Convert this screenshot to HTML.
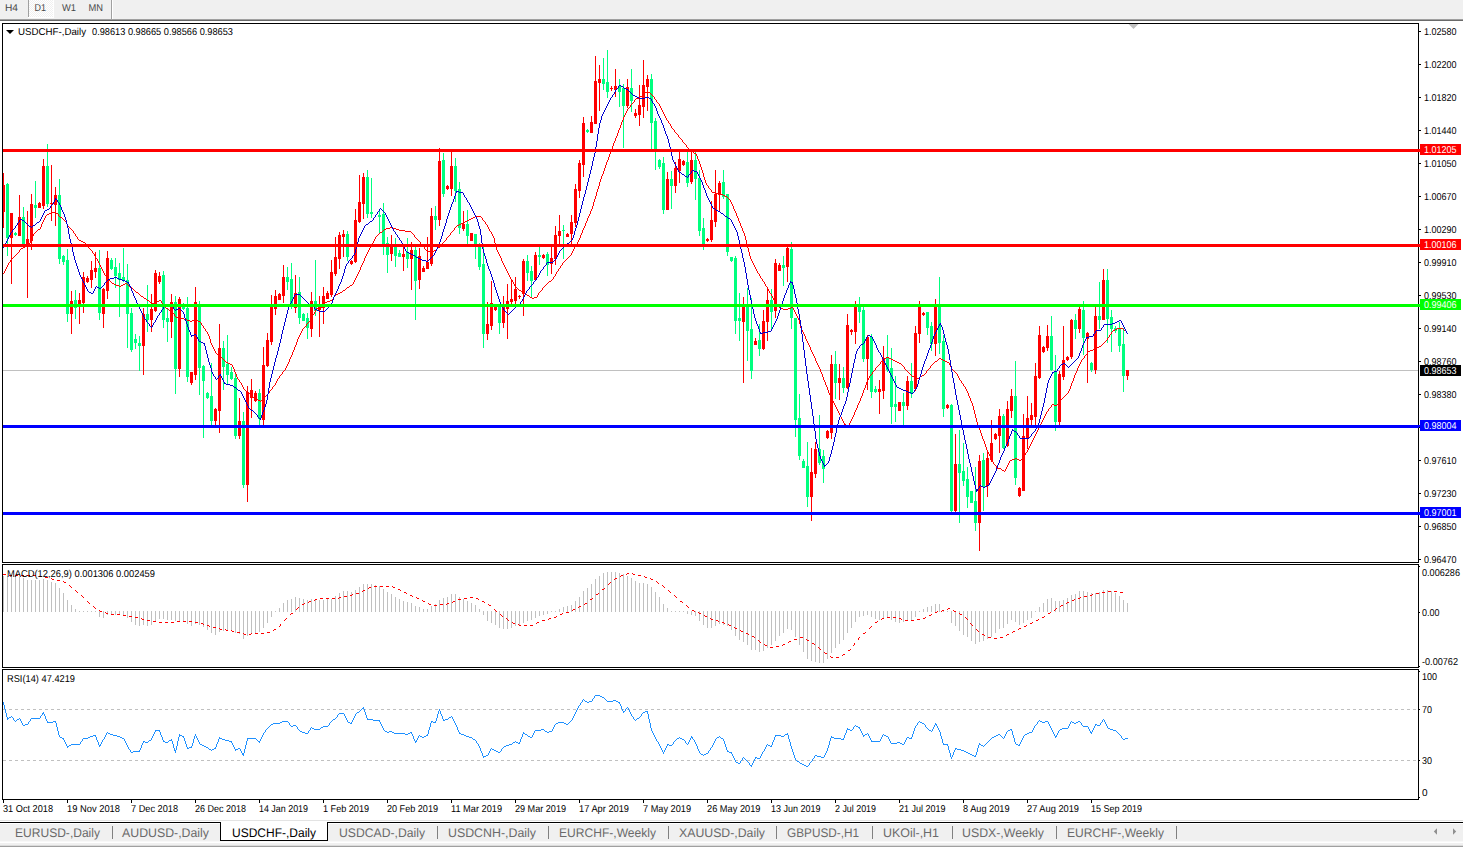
<!DOCTYPE html>
<html><head><meta charset="utf-8"><title>USDCHF-,Daily</title>
<style>
html,body{margin:0;padding:0;background:#fff;}
body{width:1463px;height:847px;overflow:hidden;position:relative;font-family:"Liberation Sans", sans-serif;}
svg{position:absolute;left:0;top:0;font-family:"Liberation Sans", sans-serif;}
.crisp{shape-rendering:crispEdges;}
</style></head><body>
<svg width="1463" height="847" viewBox="0 0 1463 847">
<g class="crisp">
<rect x="0" y="0" width="1463" height="847" fill="#ffffff"/>
<rect x="0" y="0" width="1463" height="19" fill="#f0f0f0"/>
<rect x="0" y="19" width="1463" height="1" fill="#a0a0a0"/>
<rect x="0" y="20" width="1463" height="1" fill="#696969"/>
<defs><pattern id="dth" width="2" height="2" patternUnits="userSpaceOnUse"><rect width="2" height="2" fill="#ffffff"/><rect x="0" y="0" width="1" height="1" fill="#f0f0f0"/><rect x="1" y="1" width="1" height="1" fill="#f0f0f0"/></pattern></defs>
<rect x="29" y="0" width="24" height="17" fill="url(#dth)"/>
<rect x="53" y="0" width="1" height="18" fill="#ffffff"/>
<rect x="28" y="17" width="26" height="1" fill="#ffffff"/>
<rect x="28" y="0" width="1" height="17" fill="#a0a0a0"/>
<rect x="111" y="0" width="1" height="19" fill="#a0a0a0"/>
<rect x="112" y="0" width="1" height="19" fill="#ffffff"/>
<rect x="2" y="23" width="1417" height="1" fill="#000"/>
<rect x="2" y="562" width="1417" height="1" fill="#000"/>
<rect x="2" y="23" width="1" height="540" fill="#000"/>
<rect x="1418" y="23" width="1" height="540" fill="#000"/>
<rect x="2" y="564" width="1417" height="1" fill="#000"/>
<rect x="2" y="667" width="1417" height="1" fill="#000"/>
<rect x="2" y="564" width="1" height="104" fill="#000"/>
<rect x="1418" y="564" width="1" height="104" fill="#000"/>
<rect x="2" y="669" width="1417" height="1" fill="#000"/>
<rect x="2" y="799" width="1417" height="1" fill="#000"/>
<rect x="2" y="669" width="1" height="131" fill="#000"/>
<rect x="1418" y="669" width="1" height="131" fill="#000"/>
<polygon points="1128.5,24 1138.5,24 1133.5,29" fill="#c0c0c0" shape-rendering="auto"/>
<rect x="3" y="370" width="1415" height="1" fill="#c0c0c0"/>
<rect x="3" y="173" width="1" height="55" fill="#ff0000"/>
<rect x="3" y="185" width="2" height="27" fill="#ff0000"/>
<rect x="7" y="183" width="1" height="73" fill="#00ff7f"/>
<rect x="6" y="184" width="3" height="54" fill="#00ff7f"/>
<rect x="11" y="213" width="1" height="71" fill="#ff0000"/>
<rect x="10" y="213" width="3" height="25" fill="#ff0000"/>
<rect x="15" y="232" width="1" height="4" fill="#00ff7f"/>
<rect x="14" y="233" width="3" height="2" fill="#00ff7f"/>
<rect x="19" y="195" width="1" height="41" fill="#ff0000"/>
<rect x="18" y="217" width="3" height="19" fill="#ff0000"/>
<rect x="23" y="207" width="1" height="38" fill="#00ff7f"/>
<rect x="22" y="217" width="3" height="28" fill="#00ff7f"/>
<rect x="27" y="211" width="1" height="87" fill="#ff0000"/>
<rect x="26" y="239" width="3" height="6" fill="#ff0000"/>
<rect x="31" y="194" width="1" height="56" fill="#ff0000"/>
<rect x="30" y="204" width="3" height="37" fill="#ff0000"/>
<rect x="35" y="181" width="1" height="37" fill="#00ff7f"/>
<rect x="34" y="205" width="3" height="3" fill="#00ff7f"/>
<rect x="39" y="202" width="1" height="6" fill="#ff0000"/>
<rect x="38" y="203" width="3" height="5" fill="#ff0000"/>
<rect x="43" y="159" width="1" height="50" fill="#ff0000"/>
<rect x="42" y="166" width="3" height="40" fill="#ff0000"/>
<rect x="47" y="144" width="1" height="63" fill="#00ff7f"/>
<rect x="46" y="166" width="3" height="38" fill="#00ff7f"/>
<rect x="51" y="165" width="1" height="56" fill="#ff0000"/>
<rect x="50" y="203" width="3" height="1" fill="#ff0000"/>
<rect x="55" y="187" width="1" height="39" fill="#ff0000"/>
<rect x="54" y="195" width="3" height="10" fill="#ff0000"/>
<rect x="59" y="179" width="1" height="85" fill="#00ff7f"/>
<rect x="58" y="195" width="3" height="64" fill="#00ff7f"/>
<rect x="63" y="255" width="1" height="10" fill="#00ff7f"/>
<rect x="62" y="256" width="3" height="6" fill="#00ff7f"/>
<rect x="67" y="249" width="1" height="73" fill="#00ff7f"/>
<rect x="66" y="260" width="3" height="54" fill="#00ff7f"/>
<rect x="71" y="291" width="1" height="43" fill="#ff0000"/>
<rect x="70" y="301" width="3" height="13" fill="#ff0000"/>
<rect x="75" y="290" width="1" height="29" fill="#00ff7f"/>
<rect x="74" y="300" width="3" height="8" fill="#00ff7f"/>
<rect x="79" y="293" width="1" height="31" fill="#ff0000"/>
<rect x="78" y="300" width="3" height="6" fill="#ff0000"/>
<rect x="83" y="272" width="1" height="41" fill="#ff0000"/>
<rect x="82" y="277" width="3" height="26" fill="#ff0000"/>
<rect x="87" y="276" width="1" height="7" fill="#ff0000"/>
<rect x="86" y="278" width="3" height="4" fill="#ff0000"/>
<rect x="91" y="261" width="1" height="27" fill="#ff0000"/>
<rect x="90" y="270" width="3" height="10" fill="#ff0000"/>
<rect x="95" y="252" width="1" height="26" fill="#ff0000"/>
<rect x="94" y="268" width="3" height="4" fill="#ff0000"/>
<rect x="99" y="250" width="1" height="70" fill="#00ff7f"/>
<rect x="98" y="268" width="3" height="45" fill="#00ff7f"/>
<rect x="103" y="288" width="1" height="40" fill="#ff0000"/>
<rect x="102" y="289" width="3" height="25" fill="#ff0000"/>
<rect x="107" y="251" width="1" height="48" fill="#ff0000"/>
<rect x="106" y="258" width="3" height="33" fill="#ff0000"/>
<rect x="111" y="258" width="1" height="12" fill="#00ff7f"/>
<rect x="110" y="260" width="3" height="9" fill="#00ff7f"/>
<rect x="115" y="258" width="1" height="30" fill="#00ff7f"/>
<rect x="114" y="267" width="3" height="9" fill="#00ff7f"/>
<rect x="119" y="263" width="1" height="54" fill="#00ff7f"/>
<rect x="118" y="273" width="3" height="7" fill="#00ff7f"/>
<rect x="123" y="248" width="1" height="34" fill="#00ff7f"/>
<rect x="122" y="277" width="3" height="4" fill="#00ff7f"/>
<rect x="127" y="264" width="1" height="84" fill="#00ff7f"/>
<rect x="126" y="280" width="3" height="34" fill="#00ff7f"/>
<rect x="131" y="308" width="1" height="44" fill="#00ff7f"/>
<rect x="130" y="313" width="3" height="37" fill="#00ff7f"/>
<rect x="135" y="334" width="1" height="15" fill="#00ff7f"/>
<rect x="134" y="339" width="3" height="4" fill="#00ff7f"/>
<rect x="139" y="336" width="1" height="35" fill="#00ff7f"/>
<rect x="138" y="343" width="3" height="3" fill="#00ff7f"/>
<rect x="143" y="308" width="1" height="67" fill="#ff0000"/>
<rect x="142" y="314" width="3" height="32" fill="#ff0000"/>
<rect x="147" y="285" width="1" height="47" fill="#00ff7f"/>
<rect x="146" y="314" width="3" height="6" fill="#00ff7f"/>
<rect x="151" y="294" width="1" height="38" fill="#ff0000"/>
<rect x="150" y="309" width="3" height="11" fill="#ff0000"/>
<rect x="155" y="270" width="1" height="42" fill="#ff0000"/>
<rect x="154" y="273" width="3" height="38" fill="#ff0000"/>
<rect x="159" y="272" width="1" height="12" fill="#ff0000"/>
<rect x="158" y="276" width="3" height="6" fill="#ff0000"/>
<rect x="163" y="271" width="1" height="57" fill="#00ff7f"/>
<rect x="162" y="275" width="3" height="45" fill="#00ff7f"/>
<rect x="167" y="308" width="1" height="34" fill="#00ff7f"/>
<rect x="166" y="318" width="3" height="4" fill="#00ff7f"/>
<rect x="171" y="294" width="1" height="44" fill="#ff0000"/>
<rect x="170" y="302" width="3" height="20" fill="#ff0000"/>
<rect x="175" y="296" width="1" height="98" fill="#00ff7f"/>
<rect x="174" y="302" width="3" height="67" fill="#00ff7f"/>
<rect x="179" y="297" width="1" height="80" fill="#ff0000"/>
<rect x="178" y="299" width="3" height="70" fill="#ff0000"/>
<rect x="183" y="303" width="1" height="7" fill="#00ff7f"/>
<rect x="182" y="304" width="3" height="5" fill="#00ff7f"/>
<rect x="187" y="297" width="1" height="85" fill="#00ff7f"/>
<rect x="186" y="308" width="3" height="69" fill="#00ff7f"/>
<rect x="191" y="372" width="1" height="13" fill="#ff0000"/>
<rect x="190" y="372" width="3" height="11" fill="#ff0000"/>
<rect x="195" y="287" width="1" height="93" fill="#ff0000"/>
<rect x="194" y="302" width="3" height="73" fill="#ff0000"/>
<rect x="199" y="301" width="1" height="94" fill="#00ff7f"/>
<rect x="198" y="304" width="3" height="64" fill="#00ff7f"/>
<rect x="203" y="365" width="1" height="73" fill="#00ff7f"/>
<rect x="202" y="366" width="3" height="15" fill="#00ff7f"/>
<rect x="207" y="392" width="1" height="7" fill="#00ff7f"/>
<rect x="206" y="393" width="3" height="5" fill="#00ff7f"/>
<rect x="211" y="363" width="1" height="63" fill="#00ff7f"/>
<rect x="210" y="396" width="3" height="25" fill="#00ff7f"/>
<rect x="215" y="408" width="1" height="17" fill="#ff0000"/>
<rect x="214" y="409" width="3" height="12" fill="#ff0000"/>
<rect x="219" y="324" width="1" height="109" fill="#ff0000"/>
<rect x="218" y="348" width="3" height="63" fill="#ff0000"/>
<rect x="223" y="341" width="1" height="49" fill="#00ff7f"/>
<rect x="222" y="348" width="3" height="19" fill="#00ff7f"/>
<rect x="227" y="335" width="1" height="49" fill="#00ff7f"/>
<rect x="226" y="364" width="3" height="11" fill="#00ff7f"/>
<rect x="231" y="367" width="1" height="13" fill="#00ff7f"/>
<rect x="230" y="372" width="3" height="7" fill="#00ff7f"/>
<rect x="235" y="374" width="1" height="65" fill="#00ff7f"/>
<rect x="234" y="378" width="3" height="58" fill="#00ff7f"/>
<rect x="239" y="398" width="1" height="41" fill="#ff0000"/>
<rect x="238" y="421" width="3" height="15" fill="#ff0000"/>
<rect x="243" y="412" width="1" height="76" fill="#00ff7f"/>
<rect x="242" y="421" width="3" height="64" fill="#00ff7f"/>
<rect x="247" y="386" width="1" height="116" fill="#ff0000"/>
<rect x="246" y="392" width="3" height="93" fill="#ff0000"/>
<rect x="251" y="379" width="1" height="39" fill="#ff0000"/>
<rect x="250" y="390" width="3" height="8" fill="#ff0000"/>
<rect x="255" y="391" width="1" height="11" fill="#ff0000"/>
<rect x="254" y="393" width="3" height="8" fill="#ff0000"/>
<rect x="259" y="389" width="1" height="37" fill="#00ff7f"/>
<rect x="258" y="393" width="3" height="26" fill="#00ff7f"/>
<rect x="263" y="347" width="1" height="79" fill="#ff0000"/>
<rect x="262" y="365" width="3" height="55" fill="#ff0000"/>
<rect x="267" y="333" width="1" height="34" fill="#ff0000"/>
<rect x="266" y="340" width="3" height="26" fill="#ff0000"/>
<rect x="271" y="295" width="1" height="50" fill="#ff0000"/>
<rect x="270" y="305" width="3" height="37" fill="#ff0000"/>
<rect x="275" y="290" width="1" height="25" fill="#ff0000"/>
<rect x="274" y="296" width="3" height="13" fill="#ff0000"/>
<rect x="279" y="293" width="1" height="7" fill="#ff0000"/>
<rect x="278" y="294" width="3" height="6" fill="#ff0000"/>
<rect x="283" y="265" width="1" height="38" fill="#ff0000"/>
<rect x="282" y="277" width="3" height="19" fill="#ff0000"/>
<rect x="287" y="267" width="1" height="23" fill="#00ff7f"/>
<rect x="286" y="277" width="3" height="5" fill="#00ff7f"/>
<rect x="291" y="263" width="1" height="46" fill="#00ff7f"/>
<rect x="290" y="279" width="3" height="25" fill="#00ff7f"/>
<rect x="295" y="275" width="1" height="38" fill="#ff0000"/>
<rect x="294" y="293" width="3" height="15" fill="#ff0000"/>
<rect x="299" y="277" width="1" height="47" fill="#00ff7f"/>
<rect x="298" y="292" width="3" height="26" fill="#00ff7f"/>
<rect x="303" y="313" width="1" height="8" fill="#00ff7f"/>
<rect x="302" y="314" width="3" height="7" fill="#00ff7f"/>
<rect x="307" y="313" width="1" height="26" fill="#00ff7f"/>
<rect x="306" y="318" width="3" height="10" fill="#00ff7f"/>
<rect x="311" y="292" width="1" height="45" fill="#ff0000"/>
<rect x="310" y="301" width="3" height="28" fill="#ff0000"/>
<rect x="315" y="260" width="1" height="56" fill="#00ff7f"/>
<rect x="314" y="301" width="3" height="10" fill="#00ff7f"/>
<rect x="319" y="296" width="1" height="41" fill="#ff0000"/>
<rect x="318" y="306" width="3" height="4" fill="#ff0000"/>
<rect x="323" y="287" width="1" height="37" fill="#ff0000"/>
<rect x="322" y="296" width="3" height="12" fill="#ff0000"/>
<rect x="327" y="291" width="1" height="8" fill="#ff0000"/>
<rect x="326" y="293" width="3" height="6" fill="#ff0000"/>
<rect x="331" y="260" width="1" height="37" fill="#ff0000"/>
<rect x="330" y="272" width="3" height="23" fill="#ff0000"/>
<rect x="335" y="237" width="1" height="39" fill="#ff0000"/>
<rect x="334" y="257" width="3" height="17" fill="#ff0000"/>
<rect x="339" y="232" width="1" height="37" fill="#ff0000"/>
<rect x="338" y="235" width="3" height="24" fill="#ff0000"/>
<rect x="343" y="230" width="1" height="27" fill="#ff0000"/>
<rect x="342" y="234" width="3" height="3" fill="#ff0000"/>
<rect x="347" y="231" width="1" height="30" fill="#00ff7f"/>
<rect x="346" y="234" width="3" height="23" fill="#00ff7f"/>
<rect x="351" y="260" width="1" height="5" fill="#ff0000"/>
<rect x="350" y="261" width="3" height="3" fill="#ff0000"/>
<rect x="355" y="209" width="1" height="54" fill="#ff0000"/>
<rect x="354" y="220" width="3" height="42" fill="#ff0000"/>
<rect x="359" y="175" width="1" height="48" fill="#ff0000"/>
<rect x="358" y="202" width="3" height="20" fill="#ff0000"/>
<rect x="363" y="173" width="1" height="46" fill="#ff0000"/>
<rect x="362" y="177" width="3" height="27" fill="#ff0000"/>
<rect x="367" y="170" width="1" height="48" fill="#00ff7f"/>
<rect x="366" y="177" width="3" height="37" fill="#00ff7f"/>
<rect x="371" y="178" width="1" height="40" fill="#00ff7f"/>
<rect x="370" y="212" width="3" height="2" fill="#00ff7f"/>
<rect x="379" y="210" width="1" height="24" fill="#00ff7f"/>
<rect x="378" y="215" width="3" height="2" fill="#00ff7f"/>
<rect x="383" y="203" width="1" height="52" fill="#00ff7f"/>
<rect x="382" y="214" width="3" height="32" fill="#00ff7f"/>
<rect x="387" y="237" width="1" height="36" fill="#00ff7f"/>
<rect x="386" y="243" width="3" height="12" fill="#00ff7f"/>
<rect x="391" y="235" width="1" height="26" fill="#ff0000"/>
<rect x="390" y="247" width="3" height="7" fill="#ff0000"/>
<rect x="395" y="238" width="1" height="29" fill="#00ff7f"/>
<rect x="394" y="247" width="3" height="9" fill="#00ff7f"/>
<rect x="399" y="250" width="1" height="7" fill="#00ff7f"/>
<rect x="398" y="253" width="3" height="4" fill="#00ff7f"/>
<rect x="403" y="247" width="1" height="24" fill="#ff0000"/>
<rect x="402" y="254" width="3" height="3" fill="#ff0000"/>
<rect x="407" y="238" width="1" height="30" fill="#00ff7f"/>
<rect x="406" y="252" width="3" height="7" fill="#00ff7f"/>
<rect x="411" y="242" width="1" height="48" fill="#ff0000"/>
<rect x="410" y="250" width="3" height="9" fill="#ff0000"/>
<rect x="415" y="247" width="1" height="73" fill="#00ff7f"/>
<rect x="414" y="250" width="3" height="31" fill="#00ff7f"/>
<rect x="419" y="248" width="1" height="41" fill="#ff0000"/>
<rect x="418" y="256" width="3" height="24" fill="#ff0000"/>
<rect x="423" y="266" width="1" height="6" fill="#ff0000"/>
<rect x="422" y="268" width="3" height="4" fill="#ff0000"/>
<rect x="427" y="237" width="1" height="32" fill="#ff0000"/>
<rect x="426" y="262" width="3" height="7" fill="#ff0000"/>
<rect x="431" y="208" width="1" height="58" fill="#ff0000"/>
<rect x="430" y="216" width="3" height="48" fill="#ff0000"/>
<rect x="435" y="206" width="1" height="24" fill="#00ff7f"/>
<rect x="434" y="216" width="3" height="4" fill="#00ff7f"/>
<rect x="439" y="148" width="1" height="78" fill="#ff0000"/>
<rect x="438" y="161" width="3" height="59" fill="#ff0000"/>
<rect x="443" y="153" width="1" height="44" fill="#00ff7f"/>
<rect x="442" y="160" width="3" height="34" fill="#00ff7f"/>
<rect x="447" y="185" width="1" height="5" fill="#ff0000"/>
<rect x="446" y="186" width="3" height="3" fill="#ff0000"/>
<rect x="451" y="151" width="1" height="45" fill="#ff0000"/>
<rect x="450" y="166" width="3" height="23" fill="#ff0000"/>
<rect x="455" y="158" width="1" height="44" fill="#00ff7f"/>
<rect x="454" y="166" width="3" height="25" fill="#00ff7f"/>
<rect x="459" y="182" width="1" height="52" fill="#00ff7f"/>
<rect x="458" y="189" width="3" height="39" fill="#00ff7f"/>
<rect x="463" y="211" width="1" height="20" fill="#ff0000"/>
<rect x="462" y="224" width="3" height="5" fill="#ff0000"/>
<rect x="467" y="210" width="1" height="35" fill="#00ff7f"/>
<rect x="466" y="224" width="3" height="12" fill="#00ff7f"/>
<rect x="471" y="233" width="1" height="8" fill="#ff0000"/>
<rect x="470" y="233" width="3" height="8" fill="#ff0000"/>
<rect x="475" y="234" width="1" height="25" fill="#00ff7f"/>
<rect x="474" y="234" width="3" height="12" fill="#00ff7f"/>
<rect x="479" y="243" width="1" height="27" fill="#00ff7f"/>
<rect x="478" y="245" width="3" height="22" fill="#00ff7f"/>
<rect x="483" y="247" width="1" height="101" fill="#00ff7f"/>
<rect x="482" y="264" width="3" height="70" fill="#00ff7f"/>
<rect x="487" y="302" width="1" height="38" fill="#ff0000"/>
<rect x="486" y="324" width="3" height="10" fill="#ff0000"/>
<rect x="491" y="281" width="1" height="49" fill="#ff0000"/>
<rect x="490" y="303" width="3" height="23" fill="#ff0000"/>
<rect x="495" y="306" width="1" height="5" fill="#ff0000"/>
<rect x="494" y="307" width="3" height="3" fill="#ff0000"/>
<rect x="499" y="304" width="1" height="30" fill="#00ff7f"/>
<rect x="498" y="306" width="3" height="17" fill="#00ff7f"/>
<rect x="503" y="296" width="1" height="32" fill="#ff0000"/>
<rect x="502" y="307" width="3" height="16" fill="#ff0000"/>
<rect x="507" y="284" width="1" height="55" fill="#ff0000"/>
<rect x="506" y="301" width="3" height="8" fill="#ff0000"/>
<rect x="511" y="280" width="1" height="25" fill="#ff0000"/>
<rect x="510" y="299" width="3" height="3" fill="#ff0000"/>
<rect x="515" y="277" width="1" height="28" fill="#ff0000"/>
<rect x="514" y="289" width="3" height="12" fill="#ff0000"/>
<rect x="519" y="295" width="1" height="4" fill="#ff0000"/>
<rect x="518" y="296" width="3" height="1" fill="#ff0000"/>
<rect x="523" y="259" width="1" height="57" fill="#ff0000"/>
<rect x="522" y="261" width="3" height="33" fill="#ff0000"/>
<rect x="527" y="255" width="1" height="26" fill="#00ff7f"/>
<rect x="526" y="261" width="3" height="12" fill="#00ff7f"/>
<rect x="531" y="266" width="1" height="31" fill="#00ff7f"/>
<rect x="530" y="271" width="3" height="10" fill="#00ff7f"/>
<rect x="535" y="252" width="1" height="29" fill="#ff0000"/>
<rect x="534" y="255" width="3" height="25" fill="#ff0000"/>
<rect x="539" y="247" width="1" height="18" fill="#00ff7f"/>
<rect x="538" y="255" width="3" height="2" fill="#00ff7f"/>
<rect x="543" y="254" width="1" height="5" fill="#ff0000"/>
<rect x="542" y="255" width="3" height="3" fill="#ff0000"/>
<rect x="547" y="252" width="1" height="24" fill="#00ff7f"/>
<rect x="546" y="254" width="3" height="11" fill="#00ff7f"/>
<rect x="551" y="247" width="1" height="27" fill="#ff0000"/>
<rect x="550" y="258" width="3" height="6" fill="#ff0000"/>
<rect x="555" y="226" width="1" height="39" fill="#ff0000"/>
<rect x="554" y="235" width="3" height="24" fill="#ff0000"/>
<rect x="559" y="215" width="1" height="30" fill="#ff0000"/>
<rect x="558" y="231" width="3" height="5" fill="#ff0000"/>
<rect x="563" y="225" width="1" height="34" fill="#00ff7f"/>
<rect x="562" y="230" width="3" height="1" fill="#00ff7f"/>
<rect x="567" y="233" width="1" height="4" fill="#ff0000"/>
<rect x="566" y="234" width="3" height="3" fill="#ff0000"/>
<rect x="571" y="215" width="1" height="32" fill="#ff0000"/>
<rect x="570" y="222" width="3" height="12" fill="#ff0000"/>
<rect x="575" y="184" width="1" height="43" fill="#ff0000"/>
<rect x="574" y="189" width="3" height="34" fill="#ff0000"/>
<rect x="579" y="160" width="1" height="38" fill="#ff0000"/>
<rect x="578" y="163" width="3" height="28" fill="#ff0000"/>
<rect x="583" y="117" width="1" height="60" fill="#ff0000"/>
<rect x="582" y="123" width="3" height="42" fill="#ff0000"/>
<rect x="587" y="129" width="1" height="4" fill="#00ff7f"/>
<rect x="586" y="130" width="3" height="2" fill="#00ff7f"/>
<rect x="591" y="116" width="1" height="17" fill="#ff0000"/>
<rect x="590" y="122" width="3" height="11" fill="#ff0000"/>
<rect x="595" y="56" width="1" height="68" fill="#ff0000"/>
<rect x="594" y="81" width="3" height="43" fill="#ff0000"/>
<rect x="599" y="65" width="1" height="46" fill="#ff0000"/>
<rect x="598" y="79" width="3" height="4" fill="#ff0000"/>
<rect x="603" y="58" width="1" height="32" fill="#00ff7f"/>
<rect x="602" y="79" width="3" height="5" fill="#00ff7f"/>
<rect x="607" y="50" width="1" height="48" fill="#00ff7f"/>
<rect x="606" y="82" width="3" height="10" fill="#00ff7f"/>
<rect x="611" y="86" width="1" height="5" fill="#ff0000"/>
<rect x="610" y="88" width="3" height="1" fill="#ff0000"/>
<rect x="615" y="69" width="1" height="28" fill="#ff0000"/>
<rect x="614" y="86" width="3" height="4" fill="#ff0000"/>
<rect x="619" y="79" width="1" height="28" fill="#00ff7f"/>
<rect x="618" y="86" width="3" height="6" fill="#00ff7f"/>
<rect x="623" y="84" width="1" height="64" fill="#00ff7f"/>
<rect x="622" y="88" width="3" height="18" fill="#00ff7f"/>
<rect x="627" y="79" width="1" height="29" fill="#ff0000"/>
<rect x="626" y="87" width="3" height="19" fill="#ff0000"/>
<rect x="631" y="69" width="1" height="43" fill="#00ff7f"/>
<rect x="630" y="88" width="3" height="13" fill="#00ff7f"/>
<rect x="635" y="109" width="1" height="9" fill="#ff0000"/>
<rect x="634" y="113" width="3" height="3" fill="#ff0000"/>
<rect x="639" y="85" width="1" height="41" fill="#ff0000"/>
<rect x="638" y="105" width="3" height="10" fill="#ff0000"/>
<rect x="643" y="60" width="1" height="58" fill="#ff0000"/>
<rect x="642" y="85" width="3" height="22" fill="#ff0000"/>
<rect x="647" y="75" width="1" height="36" fill="#ff0000"/>
<rect x="646" y="79" width="3" height="8" fill="#ff0000"/>
<rect x="651" y="74" width="1" height="76" fill="#00ff7f"/>
<rect x="650" y="79" width="3" height="44" fill="#00ff7f"/>
<rect x="655" y="118" width="1" height="52" fill="#00ff7f"/>
<rect x="654" y="121" width="3" height="28" fill="#00ff7f"/>
<rect x="659" y="159" width="1" height="10" fill="#00ff7f"/>
<rect x="658" y="160" width="3" height="7" fill="#00ff7f"/>
<rect x="663" y="157" width="1" height="57" fill="#00ff7f"/>
<rect x="662" y="163" width="3" height="47" fill="#00ff7f"/>
<rect x="667" y="172" width="1" height="38" fill="#ff0000"/>
<rect x="666" y="179" width="3" height="31" fill="#ff0000"/>
<rect x="671" y="171" width="1" height="38" fill="#00ff7f"/>
<rect x="670" y="179" width="3" height="7" fill="#00ff7f"/>
<rect x="675" y="162" width="1" height="31" fill="#ff0000"/>
<rect x="674" y="168" width="3" height="18" fill="#ff0000"/>
<rect x="679" y="152" width="1" height="31" fill="#ff0000"/>
<rect x="678" y="159" width="3" height="12" fill="#ff0000"/>
<rect x="683" y="160" width="1" height="6" fill="#ff0000"/>
<rect x="682" y="161" width="3" height="4" fill="#ff0000"/>
<rect x="687" y="152" width="1" height="35" fill="#00ff7f"/>
<rect x="686" y="162" width="3" height="21" fill="#00ff7f"/>
<rect x="691" y="151" width="1" height="33" fill="#ff0000"/>
<rect x="690" y="160" width="3" height="22" fill="#ff0000"/>
<rect x="695" y="152" width="1" height="48" fill="#00ff7f"/>
<rect x="694" y="160" width="3" height="19" fill="#00ff7f"/>
<rect x="699" y="170" width="1" height="66" fill="#00ff7f"/>
<rect x="698" y="178" width="3" height="53" fill="#00ff7f"/>
<rect x="703" y="218" width="1" height="32" fill="#00ff7f"/>
<rect x="702" y="228" width="3" height="16" fill="#00ff7f"/>
<rect x="707" y="238" width="1" height="4" fill="#ff0000"/>
<rect x="706" y="239" width="3" height="2" fill="#ff0000"/>
<rect x="711" y="201" width="1" height="41" fill="#ff0000"/>
<rect x="710" y="220" width="3" height="20" fill="#ff0000"/>
<rect x="715" y="170" width="1" height="57" fill="#ff0000"/>
<rect x="714" y="194" width="3" height="28" fill="#ff0000"/>
<rect x="719" y="181" width="1" height="31" fill="#ff0000"/>
<rect x="718" y="183" width="3" height="12" fill="#ff0000"/>
<rect x="723" y="170" width="1" height="29" fill="#00ff7f"/>
<rect x="722" y="182" width="3" height="15" fill="#00ff7f"/>
<rect x="727" y="194" width="1" height="62" fill="#00ff7f"/>
<rect x="726" y="194" width="3" height="58" fill="#00ff7f"/>
<rect x="731" y="257" width="1" height="5" fill="#00ff7f"/>
<rect x="730" y="257" width="3" height="4" fill="#00ff7f"/>
<rect x="735" y="256" width="1" height="78" fill="#00ff7f"/>
<rect x="734" y="258" width="3" height="63" fill="#00ff7f"/>
<rect x="739" y="293" width="1" height="48" fill="#00ff7f"/>
<rect x="738" y="318" width="3" height="3" fill="#00ff7f"/>
<rect x="743" y="297" width="1" height="86" fill="#ff0000"/>
<rect x="742" y="307" width="3" height="15" fill="#ff0000"/>
<rect x="747" y="288" width="1" height="73" fill="#00ff7f"/>
<rect x="746" y="307" width="3" height="24" fill="#00ff7f"/>
<rect x="751" y="298" width="1" height="81" fill="#00ff7f"/>
<rect x="750" y="329" width="3" height="42" fill="#00ff7f"/>
<rect x="755" y="338" width="1" height="7" fill="#ff0000"/>
<rect x="754" y="341" width="3" height="4" fill="#ff0000"/>
<rect x="759" y="324" width="1" height="32" fill="#00ff7f"/>
<rect x="758" y="340" width="3" height="9" fill="#00ff7f"/>
<rect x="763" y="310" width="1" height="40" fill="#ff0000"/>
<rect x="762" y="321" width="3" height="28" fill="#ff0000"/>
<rect x="767" y="288" width="1" height="53" fill="#ff0000"/>
<rect x="766" y="300" width="3" height="22" fill="#ff0000"/>
<rect x="771" y="289" width="1" height="40" fill="#00ff7f"/>
<rect x="770" y="300" width="3" height="12" fill="#00ff7f"/>
<rect x="775" y="259" width="1" height="59" fill="#ff0000"/>
<rect x="774" y="263" width="3" height="48" fill="#ff0000"/>
<rect x="779" y="263" width="1" height="8" fill="#ff0000"/>
<rect x="778" y="265" width="3" height="6" fill="#ff0000"/>
<rect x="783" y="256" width="1" height="30" fill="#00ff7f"/>
<rect x="782" y="265" width="3" height="3" fill="#00ff7f"/>
<rect x="787" y="246" width="1" height="36" fill="#ff0000"/>
<rect x="786" y="248" width="3" height="19" fill="#ff0000"/>
<rect x="791" y="242" width="1" height="87" fill="#00ff7f"/>
<rect x="790" y="249" width="3" height="69" fill="#00ff7f"/>
<rect x="795" y="318" width="1" height="119" fill="#00ff7f"/>
<rect x="794" y="318" width="3" height="102" fill="#00ff7f"/>
<rect x="799" y="394" width="1" height="66" fill="#00ff7f"/>
<rect x="798" y="418" width="3" height="38" fill="#00ff7f"/>
<rect x="803" y="459" width="1" height="9" fill="#00ff7f"/>
<rect x="802" y="461" width="3" height="7" fill="#00ff7f"/>
<rect x="807" y="442" width="1" height="65" fill="#00ff7f"/>
<rect x="806" y="466" width="3" height="31" fill="#00ff7f"/>
<rect x="811" y="448" width="1" height="73" fill="#ff0000"/>
<rect x="810" y="472" width="3" height="25" fill="#ff0000"/>
<rect x="815" y="442" width="1" height="36" fill="#ff0000"/>
<rect x="814" y="449" width="3" height="25" fill="#ff0000"/>
<rect x="819" y="415" width="1" height="50" fill="#00ff7f"/>
<rect x="818" y="449" width="3" height="14" fill="#00ff7f"/>
<rect x="823" y="450" width="1" height="33" fill="#00ff7f"/>
<rect x="822" y="456" width="3" height="13" fill="#00ff7f"/>
<rect x="827" y="430" width="1" height="9" fill="#ff0000"/>
<rect x="826" y="431" width="3" height="7" fill="#ff0000"/>
<rect x="831" y="355" width="1" height="84" fill="#ff0000"/>
<rect x="830" y="364" width="3" height="69" fill="#ff0000"/>
<rect x="835" y="351" width="1" height="48" fill="#00ff7f"/>
<rect x="834" y="364" width="3" height="19" fill="#00ff7f"/>
<rect x="839" y="364" width="1" height="36" fill="#ff0000"/>
<rect x="838" y="378" width="3" height="5" fill="#ff0000"/>
<rect x="843" y="367" width="1" height="26" fill="#00ff7f"/>
<rect x="842" y="378" width="3" height="10" fill="#00ff7f"/>
<rect x="847" y="314" width="1" height="75" fill="#ff0000"/>
<rect x="846" y="325" width="3" height="63" fill="#ff0000"/>
<rect x="851" y="329" width="1" height="6" fill="#ff0000"/>
<rect x="850" y="330" width="3" height="2" fill="#ff0000"/>
<rect x="855" y="301" width="1" height="43" fill="#ff0000"/>
<rect x="854" y="307" width="3" height="25" fill="#ff0000"/>
<rect x="859" y="297" width="1" height="26" fill="#00ff7f"/>
<rect x="858" y="307" width="3" height="5" fill="#00ff7f"/>
<rect x="863" y="307" width="1" height="55" fill="#00ff7f"/>
<rect x="862" y="310" width="3" height="49" fill="#00ff7f"/>
<rect x="867" y="335" width="1" height="55" fill="#ff0000"/>
<rect x="866" y="337" width="3" height="22" fill="#ff0000"/>
<rect x="871" y="334" width="1" height="64" fill="#00ff7f"/>
<rect x="870" y="337" width="3" height="55" fill="#00ff7f"/>
<rect x="875" y="386" width="1" height="7" fill="#00ff7f"/>
<rect x="874" y="389" width="3" height="3" fill="#00ff7f"/>
<rect x="879" y="380" width="1" height="34" fill="#ff0000"/>
<rect x="878" y="389" width="3" height="3" fill="#ff0000"/>
<rect x="883" y="346" width="1" height="53" fill="#ff0000"/>
<rect x="882" y="358" width="3" height="33" fill="#ff0000"/>
<rect x="887" y="335" width="1" height="37" fill="#00ff7f"/>
<rect x="886" y="358" width="3" height="12" fill="#00ff7f"/>
<rect x="891" y="348" width="1" height="76" fill="#00ff7f"/>
<rect x="890" y="368" width="3" height="39" fill="#00ff7f"/>
<rect x="895" y="376" width="1" height="46" fill="#00ff7f"/>
<rect x="894" y="404" width="3" height="3" fill="#00ff7f"/>
<rect x="899" y="402" width="1" height="9" fill="#ff0000"/>
<rect x="898" y="402" width="3" height="9" fill="#ff0000"/>
<rect x="903" y="393" width="1" height="33" fill="#00ff7f"/>
<rect x="902" y="402" width="3" height="4" fill="#00ff7f"/>
<rect x="907" y="376" width="1" height="34" fill="#ff0000"/>
<rect x="906" y="381" width="3" height="25" fill="#ff0000"/>
<rect x="911" y="363" width="1" height="35" fill="#00ff7f"/>
<rect x="910" y="381" width="3" height="13" fill="#00ff7f"/>
<rect x="915" y="326" width="1" height="65" fill="#ff0000"/>
<rect x="914" y="333" width="3" height="56" fill="#ff0000"/>
<rect x="919" y="301" width="1" height="42" fill="#ff0000"/>
<rect x="918" y="307" width="3" height="27" fill="#ff0000"/>
<rect x="923" y="312" width="1" height="4" fill="#ff0000"/>
<rect x="922" y="313" width="3" height="2" fill="#ff0000"/>
<rect x="927" y="312" width="1" height="23" fill="#00ff7f"/>
<rect x="926" y="312" width="3" height="16" fill="#00ff7f"/>
<rect x="931" y="322" width="1" height="29" fill="#00ff7f"/>
<rect x="930" y="326" width="3" height="18" fill="#00ff7f"/>
<rect x="935" y="299" width="1" height="57" fill="#ff0000"/>
<rect x="934" y="307" width="3" height="37" fill="#ff0000"/>
<rect x="939" y="277" width="1" height="77" fill="#00ff7f"/>
<rect x="938" y="307" width="3" height="36" fill="#00ff7f"/>
<rect x="943" y="335" width="1" height="82" fill="#00ff7f"/>
<rect x="942" y="341" width="3" height="68" fill="#00ff7f"/>
<rect x="947" y="404" width="1" height="5" fill="#ff0000"/>
<rect x="946" y="405" width="3" height="3" fill="#ff0000"/>
<rect x="951" y="404" width="1" height="109" fill="#00ff7f"/>
<rect x="950" y="405" width="3" height="106" fill="#00ff7f"/>
<rect x="955" y="434" width="1" height="78" fill="#ff0000"/>
<rect x="954" y="464" width="3" height="47" fill="#ff0000"/>
<rect x="959" y="430" width="1" height="93" fill="#00ff7f"/>
<rect x="958" y="464" width="3" height="9" fill="#00ff7f"/>
<rect x="963" y="443" width="1" height="43" fill="#00ff7f"/>
<rect x="962" y="471" width="3" height="10" fill="#00ff7f"/>
<rect x="967" y="467" width="1" height="41" fill="#00ff7f"/>
<rect x="966" y="479" width="3" height="18" fill="#00ff7f"/>
<rect x="971" y="491" width="1" height="12" fill="#00ff7f"/>
<rect x="970" y="491" width="3" height="12" fill="#00ff7f"/>
<rect x="975" y="467" width="1" height="64" fill="#00ff7f"/>
<rect x="974" y="501" width="3" height="22" fill="#00ff7f"/>
<rect x="979" y="455" width="1" height="96" fill="#ff0000"/>
<rect x="978" y="461" width="3" height="62" fill="#ff0000"/>
<rect x="983" y="453" width="1" height="58" fill="#00ff7f"/>
<rect x="982" y="460" width="3" height="27" fill="#00ff7f"/>
<rect x="987" y="450" width="1" height="47" fill="#ff0000"/>
<rect x="986" y="458" width="3" height="28" fill="#ff0000"/>
<rect x="991" y="420" width="1" height="42" fill="#ff0000"/>
<rect x="990" y="443" width="3" height="17" fill="#ff0000"/>
<rect x="995" y="433" width="1" height="7" fill="#ff0000"/>
<rect x="994" y="434" width="3" height="5" fill="#ff0000"/>
<rect x="999" y="409" width="1" height="44" fill="#ff0000"/>
<rect x="998" y="416" width="3" height="20" fill="#ff0000"/>
<rect x="1003" y="414" width="1" height="35" fill="#00ff7f"/>
<rect x="1002" y="416" width="3" height="32" fill="#00ff7f"/>
<rect x="1007" y="401" width="1" height="46" fill="#ff0000"/>
<rect x="1006" y="409" width="3" height="37" fill="#ff0000"/>
<rect x="1011" y="389" width="1" height="29" fill="#ff0000"/>
<rect x="1010" y="396" width="3" height="15" fill="#ff0000"/>
<rect x="1015" y="361" width="1" height="124" fill="#00ff7f"/>
<rect x="1014" y="396" width="3" height="82" fill="#00ff7f"/>
<rect x="1019" y="487" width="1" height="10" fill="#ff0000"/>
<rect x="1018" y="488" width="3" height="8" fill="#ff0000"/>
<rect x="1023" y="414" width="1" height="77" fill="#ff0000"/>
<rect x="1022" y="436" width="3" height="55" fill="#ff0000"/>
<rect x="1027" y="396" width="1" height="53" fill="#ff0000"/>
<rect x="1026" y="418" width="3" height="20" fill="#ff0000"/>
<rect x="1031" y="403" width="1" height="23" fill="#ff0000"/>
<rect x="1030" y="415" width="3" height="5" fill="#ff0000"/>
<rect x="1035" y="363" width="1" height="65" fill="#ff0000"/>
<rect x="1034" y="376" width="3" height="41" fill="#ff0000"/>
<rect x="1039" y="326" width="1" height="53" fill="#ff0000"/>
<rect x="1038" y="335" width="3" height="43" fill="#ff0000"/>
<rect x="1043" y="346" width="1" height="7" fill="#ff0000"/>
<rect x="1042" y="347" width="3" height="5" fill="#ff0000"/>
<rect x="1047" y="325" width="1" height="26" fill="#ff0000"/>
<rect x="1046" y="336" width="3" height="12" fill="#ff0000"/>
<rect x="1051" y="316" width="1" height="55" fill="#00ff7f"/>
<rect x="1050" y="336" width="3" height="34" fill="#00ff7f"/>
<rect x="1055" y="355" width="1" height="76" fill="#00ff7f"/>
<rect x="1054" y="371" width="3" height="51" fill="#00ff7f"/>
<rect x="1059" y="371" width="1" height="54" fill="#ff0000"/>
<rect x="1058" y="374" width="3" height="48" fill="#ff0000"/>
<rect x="1063" y="326" width="1" height="54" fill="#ff0000"/>
<rect x="1062" y="360" width="3" height="17" fill="#ff0000"/>
<rect x="1067" y="356" width="1" height="5" fill="#ff0000"/>
<rect x="1066" y="357" width="3" height="3" fill="#ff0000"/>
<rect x="1071" y="319" width="1" height="40" fill="#ff0000"/>
<rect x="1070" y="320" width="3" height="37" fill="#ff0000"/>
<rect x="1075" y="314" width="1" height="25" fill="#00ff7f"/>
<rect x="1074" y="320" width="3" height="9" fill="#00ff7f"/>
<rect x="1079" y="307" width="1" height="26" fill="#ff0000"/>
<rect x="1078" y="309" width="3" height="20" fill="#ff0000"/>
<rect x="1083" y="301" width="1" height="54" fill="#00ff7f"/>
<rect x="1082" y="310" width="3" height="28" fill="#00ff7f"/>
<rect x="1087" y="332" width="1" height="51" fill="#ff0000"/>
<rect x="1086" y="333" width="3" height="6" fill="#ff0000"/>
<rect x="1091" y="362" width="1" height="10" fill="#00ff7f"/>
<rect x="1090" y="363" width="3" height="7" fill="#00ff7f"/>
<rect x="1095" y="307" width="1" height="67" fill="#ff0000"/>
<rect x="1094" y="316" width="3" height="54" fill="#ff0000"/>
<rect x="1099" y="282" width="1" height="47" fill="#00ff7f"/>
<rect x="1098" y="316" width="3" height="4" fill="#00ff7f"/>
<rect x="1103" y="269" width="1" height="51" fill="#ff0000"/>
<rect x="1102" y="280" width="3" height="40" fill="#ff0000"/>
<rect x="1107" y="269" width="1" height="74" fill="#00ff7f"/>
<rect x="1106" y="280" width="3" height="39" fill="#00ff7f"/>
<rect x="1111" y="310" width="1" height="42" fill="#00ff7f"/>
<rect x="1110" y="317" width="3" height="12" fill="#00ff7f"/>
<rect x="1115" y="326" width="1" height="7" fill="#00ff7f"/>
<rect x="1114" y="328" width="3" height="3" fill="#00ff7f"/>
<rect x="1119" y="322" width="1" height="30" fill="#00ff7f"/>
<rect x="1118" y="329" width="3" height="17" fill="#00ff7f"/>
<rect x="1123" y="328" width="1" height="64" fill="#00ff7f"/>
<rect x="1122" y="344" width="3" height="32" fill="#00ff7f"/>
<rect x="1127" y="370" width="1" height="10" fill="#ff0000"/>
<rect x="1126" y="370" width="3" height="6" fill="#ff0000"/>
</g>
<g class="crisp">
<path d="M3 273h1v1h-1zM4 271h1v2h-1zM5 269h1v2h-1zM6 267h1v2h-1zM7 265h1v2h-1zM8 263h1v2h-1zM9 262h1v1h-1zM10 260h1v2h-1zM11 259h1v1h-1zM12 258h1v1h-1zM13 257h1v1h-1zM14 256h1v1h-1zM15 255h1v1h-1zM16 254h1v1h-1zM17 253h1v1h-1zM18 252h1v1h-1zM19 250h1v2h-1zM20 249h1v1h-1zM21 248h2v1h-2zM23 247h2v1h-2zM25 246h2v1h-2zM27 245h1v1h-1zM28 244h1v1h-1zM29 243h1v1h-1zM30 241h1v2h-1zM31 239h1v2h-1zM32 236h1v3h-1zM33 234h1v2h-1zM34 233h1v1h-1zM35 232h1v1h-1zM36 231h1v1h-1zM37 230h1v1h-1zM38 229h2v1h-2zM40 227h1v2h-1zM41 224h1v3h-1zM42 222h1v2h-1zM43 220h1v2h-1zM44 218h1v2h-1zM45 216h1v2h-1zM46 215h1v1h-1zM47 214h2v1h-2zM49 213h3v1h-3zM52 212h4v1h-4zM56 213h2v1h-2zM58 214h1v2h-1zM59 216h1v1h-1zM60 217h2v1h-2zM62 218h1v1h-1zM63 219h1v1h-1zM64 220h1v1h-1zM65 221h1v1h-1zM66 222h1v2h-1zM67 224h1v2h-1zM68 226h1v1h-1zM69 227h1v1h-1zM70 228h1v1h-1zM71 229h1v1h-1zM72 230h1v1h-1zM73 231h1v2h-1zM74 233h1v1h-1zM75 234h1v2h-1zM76 236h1v1h-1zM77 237h1v2h-1zM78 239h1v1h-1zM79 240h2v1h-2zM81 241h2v1h-2zM83 242h2v1h-2zM85 243h1v1h-1zM86 244h1v1h-1zM87 245h1v1h-1zM88 246h1v2h-1zM89 248h1v1h-1zM90 249h1v1h-1zM91 250h1v1h-1zM92 251h1v2h-1zM93 253h1v1h-1zM94 254h1v2h-1zM95 256h1v2h-1zM96 258h1v1h-1zM97 259h1v2h-1zM98 261h1v2h-1zM99 263h1v2h-1zM100 265h1v2h-1zM101 267h1v2h-1zM102 269h1v2h-1zM103 271h1v2h-1zM104 273h1v2h-1zM105 275h1v1h-1zM106 276h1v1h-1zM107 277h1v1h-1zM108 278h1v2h-1zM109 280h1v1h-1zM110 281h1v1h-1zM111 282h1v1h-1zM112 283h2v1h-2zM114 284h2v1h-2zM116 285h3v1h-3zM119 286h2v1h-2zM121 285h2v1h-2zM123 284h2v1h-2zM125 283h2v1h-2zM127 284h1v1h-1zM128 285h1v1h-1zM129 286h2v1h-2zM131 287h1v1h-1zM132 288h1v1h-1zM133 289h1v1h-1zM134 290h1v1h-1zM135 291h1v1h-1zM136 292h2v1h-2zM138 293h1v1h-1zM139 294h1v1h-1zM140 295h1v1h-1zM141 296h2v1h-2zM143 297h1v1h-1zM144 298h2v1h-2zM146 299h1v1h-1zM147 300h2v1h-2zM149 301h1v1h-1zM150 302h2v1h-2zM152 303h2v1h-2zM154 302h2v1h-2zM156 301h3v1h-3zM159 300h2v1h-2zM161 301h1v2h-1zM162 303h1v1h-1zM163 304h1v2h-1zM164 306h1v1h-1zM165 307h1v1h-1zM166 308h2v1h-2zM168 309h1v1h-1zM169 310h1v1h-1zM170 311h2v1h-2zM172 312h1v1h-1zM173 313h1v1h-1zM174 314h1v2h-1zM175 316h1v1h-1zM176 317h3v1h-3zM179 318h5v1h-5zM184 319h3v1h-3zM187 320h3v1h-3zM190 321h2v1h-2zM192 320h2v1h-2zM194 319h2v1h-2zM196 320h2v1h-2zM198 321h2v1h-2zM200 322h1v1h-1zM201 323h1v2h-1zM202 325h1v1h-1zM203 326h1v2h-1zM204 328h1v1h-1zM205 329h1v2h-1zM206 331h1v1h-1zM207 332h1v2h-1zM208 334h1v2h-1zM209 336h1v3h-1zM210 339h1v4h-1zM211 343h1v2h-1zM212 345h1v2h-1zM213 347h1v2h-1zM214 349h1v2h-1zM215 351h1v2h-1zM216 353h1v1h-1zM217 354h2v1h-2zM219 355h1v1h-1zM220 356h1v1h-1zM221 357h1v1h-1zM222 358h1v1h-1zM223 359h1v1h-1zM224 360h1v1h-1zM225 361h1v1h-1zM226 362h2v1h-2zM228 363h2v1h-2zM230 364h2v1h-2zM232 365h1v2h-1zM233 367h1v2h-1zM234 369h1v3h-1zM235 372h1v2h-1zM236 374h1v3h-1zM237 377h1v2h-1zM238 379h1v1h-1zM239 380h1v2h-1zM240 382h1v1h-1zM241 383h1v2h-1zM242 385h1v2h-1zM243 387h1v2h-1zM244 389h1v1h-1zM245 390h1v1h-1zM246 391h1v1h-1zM247 392h1v1h-1zM248 393h2v1h-2zM250 394h1v1h-1zM251 395h1v1h-1zM252 396h1v1h-1zM253 397h2v1h-2zM255 398h1v1h-1zM256 399h2v1h-2zM258 400h2v1h-2zM260 401h1v1h-1zM261 400h1v1h-1zM262 399h1v1h-1zM263 398h1v1h-1zM264 397h1v1h-1zM265 396h1v1h-1zM266 395h1v1h-1zM267 394h1v1h-1zM268 393h1v1h-1zM269 391h1v2h-1zM270 390h1v1h-1zM271 389h1v1h-1zM272 387h1v2h-1zM273 386h1v1h-1zM274 385h1v1h-1zM275 383h1v2h-1zM276 381h1v2h-1zM277 379h1v2h-1zM278 378h1v1h-1zM279 376h1v2h-1zM280 375h1v1h-1zM281 374h1v1h-1zM282 372h1v2h-1zM283 371h1v1h-1zM284 370h1v1h-1zM285 368h1v2h-1zM286 366h1v2h-1zM287 364h1v2h-1zM288 362h1v2h-1zM289 359h1v3h-1zM290 357h1v2h-1zM291 355h1v2h-1zM292 352h1v3h-1zM293 350h1v2h-1zM294 347h1v3h-1zM295 345h1v2h-1zM296 342h1v3h-1zM297 339h1v3h-1zM298 337h1v2h-1zM299 335h1v2h-1zM300 333h1v2h-1zM301 331h1v2h-1zM302 329h1v2h-1zM303 328h1v1h-1zM304 327h1v1h-1zM305 326h1v1h-1zM306 324h1v2h-1zM307 323h1v1h-1zM308 322h1v1h-1zM309 321h1v1h-1zM310 319h1v2h-1zM311 317h1v2h-1zM312 315h1v2h-1zM313 314h1v1h-1zM314 312h1v2h-1zM315 310h1v2h-1zM316 308h3v1h-3zM316 309h1v1h-1zM319 307h3v1h-3zM322 306h1v1h-1zM323 304h1v2h-1zM324 303h1v1h-1zM325 302h2v1h-2zM327 301h3v1h-3zM330 300h2v1h-2zM332 299h1v1h-1zM333 297h1v2h-1zM334 296h1v1h-1zM335 295h1v1h-1zM336 294h2v1h-2zM338 293h2v1h-2zM340 292h2v1h-2zM342 291h1v1h-1zM343 290h2v1h-2zM345 289h1v1h-1zM346 288h1v1h-1zM347 287h2v1h-2zM349 286h1v1h-1zM350 285h2v1h-2zM352 284h1v1h-1zM353 282h1v2h-1zM354 280h1v2h-1zM355 278h1v2h-1zM356 276h1v2h-1zM357 274h1v2h-1zM358 272h1v2h-1zM359 270h1v2h-1zM360 267h1v3h-1zM361 265h1v2h-1zM362 263h1v2h-1zM363 261h1v2h-1zM364 258h1v3h-1zM365 256h1v2h-1zM366 254h1v2h-1zM367 252h1v2h-1zM368 250h1v2h-1zM369 248h1v2h-1zM370 246h1v2h-1zM371 244h1v2h-1zM372 243h1v1h-1zM373 241h1v2h-1zM374 239h1v2h-1zM375 237h1v2h-1zM376 236h1v1h-1zM377 235h1v1h-1zM378 234h1v1h-1zM379 233h1v1h-1zM380 232h2v1h-2zM382 231h1v1h-1zM383 230h1v1h-1zM384 229h2v1h-2zM386 228h4v1h-4zM390 227h3v1h-3zM393 228h3v1h-3zM396 229h3v1h-3zM399 230h6v1h-6zM405 231h6v1h-6zM411 232h1v1h-1zM412 233h1v1h-1zM413 234h1v1h-1zM414 235h1v2h-1zM415 237h1v1h-1zM416 238h1v1h-1zM417 239h1v1h-1zM418 240h1v1h-1zM419 241h1v1h-1zM420 242h1v2h-1zM421 244h1v1h-1zM422 245h1v1h-1zM423 246h1v1h-1zM424 247h1v2h-1zM425 249h1v1h-1zM426 250h2v1h-2zM428 251h3v1h-3zM431 252h2v1h-2zM433 251h1v1h-1zM434 250h2v1h-2zM436 249h1v1h-1zM437 248h1v1h-1zM438 247h2v1h-2zM440 246h1v1h-1zM441 245h1v1h-1zM442 243h1v2h-1zM443 242h1v1h-1zM444 241h1v1h-1zM445 240h1v1h-1zM446 238h1v2h-1zM447 237h1v1h-1zM448 236h1v1h-1zM449 235h1v1h-1zM450 233h1v2h-1zM451 232h1v1h-1zM452 231h1v1h-1zM453 230h1v1h-1zM454 228h1v2h-1zM455 227h1v1h-1zM456 226h1v1h-1zM457 225h2v1h-2zM459 224h2v1h-2zM461 223h2v1h-2zM463 222h2v1h-2zM465 221h2v1h-2zM467 220h2v1h-2zM469 219h2v1h-2zM471 218h2v1h-2zM473 217h2v1h-2zM475 216h6v1h-6zM481 217h1v1h-1zM482 218h1v2h-1zM483 220h1v1h-1zM484 221h1v1h-1zM485 222h1v2h-1zM486 224h1v1h-1zM487 225h1v2h-1zM488 227h1v2h-1zM489 229h1v2h-1zM490 231h1v1h-1zM491 232h1v2h-1zM492 234h1v2h-1zM493 236h1v2h-1zM494 238h1v5h-1zM495 243h1v4h-1zM496 247h1v3h-1zM497 250h1v2h-1zM498 252h1v2h-1zM499 254h1v2h-1zM500 256h1v2h-1zM501 258h1v3h-1zM502 261h1v2h-1zM503 263h1v2h-1zM504 265h1v2h-1zM505 267h1v2h-1zM506 269h1v2h-1zM507 271h1v2h-1zM508 273h1v2h-1zM509 275h1v2h-1zM510 277h1v2h-1zM511 279h1v1h-1zM512 280h1v2h-1zM513 282h1v2h-1zM514 284h1v2h-1zM515 286h1v1h-1zM516 287h1v1h-1zM517 288h1v1h-1zM518 289h1v1h-1zM519 290h2v1h-2zM521 291h1v1h-1zM522 292h2v1h-2zM524 293h2v1h-2zM526 294h1v1h-1zM527 295h2v1h-2zM529 296h1v1h-1zM530 297h2v1h-2zM532 298h2v1h-2zM534 297h3v1h-3zM537 295h1v2h-1zM538 293h1v2h-1zM539 292h1v1h-1zM540 291h1v1h-1zM541 290h1v1h-1zM542 288h1v2h-1zM543 287h1v1h-1zM544 286h1v1h-1zM545 285h1v1h-1zM546 284h1v1h-1zM547 283h1v1h-1zM548 282h1v1h-1zM549 281h2v1h-2zM551 280h1v1h-1zM552 279h1v1h-1zM553 277h1v2h-1zM554 276h1v1h-1zM555 274h1v2h-1zM556 272h1v2h-1zM557 271h1v1h-1zM558 269h1v2h-1zM559 268h1v1h-1zM560 266h1v2h-1zM561 265h1v1h-1zM562 263h1v2h-1zM563 262h1v1h-1zM564 261h1v1h-1zM565 260h1v1h-1zM566 259h1v1h-1zM567 258h1v1h-1zM568 257h1v1h-1zM569 256h1v1h-1zM570 255h1v1h-1zM571 253h1v2h-1zM572 251h1v2h-1zM573 249h1v2h-1zM574 247h1v2h-1zM575 246h1v1h-1zM576 244h1v2h-1zM577 242h1v2h-1zM578 240h1v2h-1zM579 238h1v2h-1zM580 235h1v3h-1zM581 233h1v2h-1zM582 230h1v3h-1zM583 228h1v2h-1zM584 226h1v2h-1zM585 223h1v3h-1zM586 221h1v2h-1zM587 218h1v3h-1zM588 216h1v2h-1zM589 214h1v2h-1zM590 211h1v3h-1zM591 209h1v2h-1zM592 206h1v3h-1zM593 202h1v4h-1zM594 199h1v3h-1zM595 196h1v3h-1zM596 192h1v4h-1zM597 189h1v3h-1zM598 186h1v3h-1zM599 182h1v4h-1zM600 179h1v3h-1zM601 176h1v3h-1zM602 174h1v2h-1zM603 171h1v3h-1zM604 168h1v3h-1zM605 165h1v3h-1zM606 162h1v3h-1zM607 160h1v2h-1zM608 157h1v3h-1zM609 154h1v3h-1zM610 151h1v3h-1zM611 149h1v2h-1zM612 146h1v3h-1zM613 143h1v3h-1zM614 141h1v2h-1zM615 138h1v3h-1zM616 136h1v2h-1zM617 133h1v3h-1zM618 130h1v3h-1zM619 128h1v2h-1zM620 125h1v3h-1zM621 122h1v3h-1zM622 120h1v2h-1zM623 117h1v3h-1zM624 115h1v2h-1zM625 113h1v2h-1zM626 111h1v2h-1zM627 109h1v2h-1zM628 108h1v1h-1zM629 107h1v1h-1zM630 105h1v2h-1zM631 104h1v1h-1zM632 103h1v1h-1zM633 102h1v1h-1zM634 100h1v2h-1zM635 99h1v1h-1zM636 98h3v1h-3zM639 97h1v1h-1zM640 96h2v1h-2zM642 95h1v1h-1zM643 94h1v1h-1zM644 93h1v1h-1zM645 92h5v1h-5zM650 93h1v1h-1zM651 94h1v1h-1zM652 95h1v1h-1zM653 96h1v1h-1zM654 97h1v2h-1zM655 99h1v1h-1zM656 100h1v2h-1zM657 102h1v1h-1zM658 103h1v1h-1zM659 104h1v2h-1zM660 106h1v2h-1zM661 108h1v2h-1zM662 110h1v2h-1zM663 112h1v2h-1zM664 114h1v2h-1zM665 116h1v2h-1zM666 118h1v2h-1zM667 120h1v1h-1zM668 121h1v2h-1zM669 123h1v1h-1zM670 124h1v2h-1zM671 126h1v2h-1zM672 128h1v1h-1zM673 129h1v1h-1zM674 130h1v2h-1zM675 132h1v1h-1zM676 133h1v1h-1zM677 134h1v1h-1zM678 135h1v2h-1zM679 137h1v1h-1zM680 138h1v1h-1zM681 139h1v1h-1zM682 140h1v2h-1zM683 142h1v1h-1zM684 143h1v1h-1zM685 144h1v1h-1zM686 145h1v2h-1zM687 147h1v1h-1zM688 148h1v1h-1zM689 149h1v1h-1zM690 150h2v1h-2zM692 151h1v1h-1zM693 152h1v1h-1zM694 153h2v1h-2zM696 154h1v2h-1zM697 156h1v3h-1zM698 159h1v2h-1zM699 161h1v3h-1zM700 164h1v3h-1zM701 167h1v3h-1zM702 170h1v3h-1zM703 173h1v4h-1zM704 177h1v3h-1zM705 180h1v3h-1zM706 183h1v2h-1zM707 185h1v1h-1zM708 186h1v2h-1zM709 188h1v1h-1zM710 189h1v1h-1zM711 190h1v2h-1zM712 192h4v1h-4zM716 193h5v1h-5zM721 194h2v1h-2zM723 195h2v1h-2zM725 196h2v1h-2zM727 197h1v1h-1zM728 198h1v1h-1zM729 199h1v1h-1zM730 200h1v2h-1zM731 202h1v2h-1zM732 204h1v2h-1zM733 206h1v3h-1zM734 209h1v2h-1zM735 211h1v2h-1zM736 213h1v3h-1zM737 216h1v2h-1zM738 218h1v3h-1zM739 221h1v2h-1zM740 223h1v3h-1zM741 226h1v2h-1zM742 228h1v3h-1zM743 231h1v2h-1zM744 233h1v3h-1zM745 236h1v4h-1zM746 240h1v4h-1zM747 244h1v4h-1zM748 248h1v4h-1zM749 252h1v4h-1zM750 256h1v3h-1zM751 259h1v2h-1zM752 261h1v2h-1zM753 263h1v2h-1zM754 265h1v2h-1zM755 267h1v2h-1zM756 269h1v2h-1zM757 271h1v2h-1zM758 273h1v1h-1zM759 274h1v2h-1zM760 276h1v2h-1zM761 278h1v1h-1zM762 279h1v2h-1zM763 281h1v1h-1zM764 282h1v2h-1zM765 284h1v2h-1zM766 286h1v1h-1zM767 287h1v2h-1zM768 289h1v2h-1zM769 291h1v2h-1zM770 293h1v1h-1zM771 294h1v2h-1zM772 296h1v2h-1zM773 298h1v2h-1zM774 300h1v1h-1zM775 301h1v1h-1zM776 302h1v2h-1zM777 304h1v1h-1zM778 305h1v1h-1zM779 306h1v2h-1zM780 308h3v1h-3zM783 309h5v1h-5zM788 308h3v1h-3zM791 307h2v1h-2zM793 308h1v2h-1zM794 310h1v2h-1zM795 312h1v2h-1zM796 314h1v2h-1zM797 316h1v2h-1zM798 318h1v2h-1zM799 320h1v4h-1zM800 324h1v4h-1zM801 328h1v2h-1zM802 330h1v2h-1zM803 332h1v2h-1zM804 334h1v2h-1zM805 336h1v3h-1zM806 339h1v2h-1zM807 341h1v2h-1zM808 343h1v2h-1zM809 345h1v2h-1zM810 347h1v3h-1zM811 350h1v2h-1zM812 352h1v2h-1zM813 354h1v2h-1zM814 356h1v2h-1zM815 358h1v3h-1zM816 361h1v2h-1zM817 363h1v2h-1zM818 365h1v2h-1zM819 367h1v2h-1zM820 369h1v3h-1zM821 372h1v2h-1zM822 374h1v3h-1zM823 377h1v3h-1zM824 380h1v2h-1zM825 382h1v3h-1zM826 385h1v2h-1zM827 387h1v3h-1zM828 390h1v3h-1zM829 393h1v2h-1zM830 395h1v2h-1zM831 397h1v2h-1zM832 399h1v2h-1zM833 401h1v2h-1zM834 403h1v2h-1zM835 405h1v2h-1zM836 407h1v2h-1zM837 409h1v2h-1zM838 411h1v2h-1zM839 413h1v2h-1zM840 415h1v2h-1zM841 417h1v2h-1zM842 419h1v2h-1zM843 421h1v2h-1zM844 423h1v2h-1zM845 424h1v1h-1zM846 425h3v1h-3zM849 423h1v2h-1zM850 421h1v2h-1zM851 419h1v2h-1zM852 417h1v2h-1zM853 415h1v2h-1zM854 412h1v3h-1zM855 410h1v2h-1zM856 408h1v2h-1zM857 405h1v3h-1zM858 403h1v2h-1zM859 401h1v2h-1zM860 398h1v3h-1zM861 396h1v2h-1zM862 393h1v3h-1zM863 390h1v3h-1zM864 388h1v2h-1zM865 385h1v3h-1zM866 382h1v3h-1zM867 380h1v2h-1zM868 378h1v2h-1zM869 376h1v2h-1zM870 375h1v1h-1zM871 374h1v1h-1zM872 372h1v2h-1zM873 371h1v1h-1zM874 370h1v1h-1zM875 368h1v2h-1zM876 367h1v1h-1zM877 366h1v1h-1zM878 365h1v1h-1zM879 364h1v1h-1zM880 362h1v2h-1zM881 361h1v1h-1zM882 360h1v1h-1zM883 359h1v1h-1zM884 358h2v1h-2zM886 357h3v1h-3zM889 358h2v1h-2zM891 359h2v1h-2zM893 360h2v1h-2zM895 361h2v1h-2zM897 362h2v1h-2zM899 363h2v1h-2zM901 364h1v1h-1zM902 365h1v1h-1zM903 366h1v1h-1zM904 367h1v2h-1zM905 369h1v1h-1zM906 370h1v1h-1zM907 371h1v1h-1zM908 372h1v1h-1zM909 373h1v1h-1zM910 374h1v1h-1zM911 375h1v1h-1zM912 376h2v1h-2zM914 377h1v1h-1zM915 378h1v1h-1zM916 379h1v1h-1zM917 378h2v1h-2zM919 377h1v1h-1zM920 376h2v1h-2zM922 375h2v1h-2zM924 374h1v1h-1zM925 373h1v1h-1zM926 371h1v2h-1zM927 370h1v1h-1zM928 369h1v1h-1zM929 368h1v1h-1zM930 366h1v2h-1zM931 365h1v1h-1zM932 364h1v1h-1zM933 363h1v1h-1zM934 362h1v1h-1zM935 361h2v1h-2zM937 360h1v1h-1zM938 359h1v1h-1zM939 358h2v1h-2zM941 359h2v1h-2zM943 360h2v1h-2zM945 361h2v1h-2zM947 362h2v1h-2zM949 363h1v2h-1zM950 365h1v2h-1zM951 367h1v2h-1zM952 369h1v1h-1zM953 370h1v1h-1zM954 371h1v1h-1zM955 372h1v1h-1zM956 373h1v1h-1zM957 374h1v2h-1zM958 376h1v2h-1zM959 378h1v2h-1zM960 380h1v1h-1zM961 381h1v2h-1zM962 383h1v1h-1zM963 384h1v2h-1zM964 386h1v1h-1zM965 387h1v2h-1zM966 389h1v2h-1zM967 391h1v2h-1zM968 393h1v3h-1zM969 396h1v2h-1zM970 398h1v3h-1zM971 401h1v2h-1zM972 403h1v3h-1zM973 406h1v4h-1zM974 410h1v4h-1zM975 414h1v4h-1zM976 418h1v4h-1zM977 422h1v3h-1zM978 425h1v2h-1zM979 427h1v3h-1zM980 430h1v3h-1zM981 433h1v3h-1zM982 436h1v3h-1zM983 439h1v2h-1zM984 441h1v3h-1zM985 444h1v3h-1zM986 447h1v3h-1zM987 450h1v2h-1zM988 452h1v2h-1zM989 454h1v2h-1zM990 456h1v2h-1zM991 458h1v2h-1zM992 460h1v2h-1zM993 462h1v2h-1zM994 464h1v1h-1zM995 465h1v1h-1zM996 466h1v2h-1zM997 468h4v1h-4zM1001 469h1v1h-1zM1002 470h2v1h-2zM1004 471h1v1h-1zM1005 469h1v2h-1zM1006 467h1v2h-1zM1007 465h1v2h-1zM1008 463h1v2h-1zM1009 461h1v2h-1zM1010 460h2v1h-2zM1012 459h3v1h-3zM1015 458h2v1h-2zM1017 459h2v1h-2zM1019 460h2v1h-2zM1021 459h1v1h-1zM1022 457h1v2h-1zM1023 456h1v1h-1zM1024 455h1v1h-1zM1025 453h1v2h-1zM1026 452h1v1h-1zM1027 450h1v2h-1zM1028 448h1v2h-1zM1029 446h1v2h-1zM1030 444h1v2h-1zM1031 442h1v2h-1zM1032 440h1v2h-1zM1033 438h1v2h-1zM1034 436h1v2h-1zM1035 434h1v2h-1zM1036 432h1v2h-1zM1037 430h1v2h-1zM1038 428h1v2h-1zM1039 426h1v2h-1zM1040 424h1v2h-1zM1041 422h1v2h-1zM1042 420h1v2h-1zM1043 418h1v2h-1zM1044 416h1v2h-1zM1045 414h1v2h-1zM1046 412h1v2h-1zM1047 411h1v1h-1zM1048 409h1v2h-1zM1049 408h1v1h-1zM1050 407h1v1h-1zM1051 405h1v2h-1zM1052 404h2v1h-2zM1054 405h3v1h-3zM1057 404h1v1h-1zM1058 403h1v1h-1zM1059 401h1v2h-1zM1060 400h1v1h-1zM1061 399h1v1h-1zM1062 398h1v1h-1zM1063 397h1v1h-1zM1064 396h1v1h-1zM1065 395h1v1h-1zM1066 394h1v1h-1zM1067 393h1v1h-1zM1068 391h1v2h-1zM1069 389h1v2h-1zM1070 386h1v3h-1zM1071 383h1v3h-1zM1072 381h1v2h-1zM1073 378h1v3h-1zM1074 375h1v3h-1zM1075 373h1v2h-1zM1076 371h1v2h-1zM1077 368h1v3h-1zM1078 366h1v2h-1zM1079 364h1v2h-1zM1080 362h1v2h-1zM1081 360h1v2h-1zM1082 359h1v1h-1zM1083 358h1v1h-1zM1084 356h1v2h-1zM1085 355h1v1h-1zM1086 354h1v1h-1zM1087 352h1v2h-1zM1088 351h2v1h-2zM1090 350h3v1h-3zM1093 349h2v1h-2zM1095 348h2v1h-2zM1097 347h2v1h-2zM1099 346h2v1h-2zM1101 345h1v1h-1zM1102 344h1v1h-1zM1103 343h1v1h-1zM1104 342h1v1h-1zM1105 341h1v1h-1zM1106 340h1v1h-1zM1107 338h1v2h-1zM1108 337h1v1h-1zM1109 335h1v2h-1zM1110 334h1v1h-1zM1111 332h1v2h-1zM1112 331h1v1h-1zM1113 330h2v1h-2zM1115 329h2v1h-2zM1117 328h6v1h-6zM1123 329h1v1h-1zM1124 330h2v1h-2zM1126 331h1v1h-1z" fill="#ff0000"/>
<path d="M3 247h1v1h-1zM4 245h1v2h-1zM5 243h1v2h-1zM6 241h1v2h-1zM7 239h1v2h-1zM8 237h1v2h-1zM9 235h1v2h-1zM10 233h1v2h-1zM11 232h1v1h-1zM12 230h1v2h-1zM13 229h1v1h-1zM14 228h1v1h-1zM15 226h1v2h-1zM16 225h1v1h-1zM17 223h1v2h-1zM18 222h1v1h-1zM19 220h1v2h-1zM20 219h2v1h-2zM22 220h2v1h-2zM24 221h1v1h-1zM25 222h1v1h-1zM26 223h1v1h-1zM27 224h1v1h-1zM28 225h1v1h-1zM29 226h2v1h-2zM31 227h1v1h-1zM32 226h1v1h-1zM33 225h2v1h-2zM35 224h1v1h-1zM36 223h1v1h-1zM37 222h2v1h-2zM39 221h1v1h-1zM40 219h1v2h-1zM41 217h1v2h-1zM42 215h1v2h-1zM43 213h1v2h-1zM44 211h1v2h-1zM45 210h2v1h-2zM47 209h2v1h-2zM49 208h1v1h-1zM50 206h1v2h-1zM51 205h1v1h-1zM52 204h1v1h-1zM53 202h1v2h-1zM54 200h1v2h-1zM55 198h1v2h-1zM56 199h1v1h-1zM57 200h1v2h-1zM58 202h1v1h-1zM59 203h1v2h-1zM60 205h1v2h-1zM61 207h1v3h-1zM62 210h1v2h-1zM63 212h1v2h-1zM64 214h1v3h-1zM65 217h1v3h-1zM66 220h1v4h-1zM67 224h1v4h-1zM68 228h1v6h-1zM69 234h1v5h-1zM70 239h1v4h-1zM71 243h1v4h-1zM72 247h1v5h-1zM73 252h1v4h-1zM74 256h1v4h-1zM75 260h1v3h-1zM76 263h1v3h-1zM77 266h1v3h-1zM78 269h1v3h-1zM79 272h1v3h-1zM80 275h1v2h-1zM81 277h1v2h-1zM82 279h1v2h-1zM83 281h1v2h-1zM84 283h1v2h-1zM85 285h1v2h-1zM86 287h1v2h-1zM87 289h1v2h-1zM88 291h1v1h-1zM89 292h2v1h-2zM91 293h2v1h-2zM93 291h1v2h-1zM94 289h1v2h-1zM95 287h1v2h-1zM96 286h1v1h-1zM97 287h2v1h-2zM99 288h2v1h-2zM101 287h1v1h-1zM102 286h1v1h-1zM103 285h1v1h-1zM104 283h1v2h-1zM105 282h1v1h-1zM106 281h1v1h-1zM107 280h1v1h-1zM108 279h2v1h-2zM110 278h4v1h-4zM114 277h3v1h-3zM117 278h2v1h-2zM119 279h3v1h-3zM122 280h3v1h-3zM125 281h2v1h-2zM127 282h2v1h-2zM128 283h1v1h-1zM129 284h1v2h-1zM130 286h1v2h-1zM131 288h1v3h-1zM132 291h1v2h-1zM133 293h1v3h-1zM134 296h1v2h-1zM135 298h1v2h-1zM136 300h1v3h-1zM137 303h1v2h-1zM138 305h1v2h-1zM139 307h1v2h-1zM140 309h1v2h-1zM141 311h1v2h-1zM142 313h1v2h-1zM143 315h1v2h-1zM144 317h1v2h-1zM145 319h1v1h-1zM146 320h1v2h-1zM147 322h1v1h-1zM148 323h1v1h-1zM149 324h1v2h-1zM150 326h1v1h-1zM151 327h1v1h-1zM152 325h1v2h-1zM153 323h1v2h-1zM154 322h1v1h-1zM155 320h1v2h-1zM156 318h1v2h-1zM157 316h1v2h-1zM158 315h1v1h-1zM159 313h1v2h-1zM160 312h1v1h-1zM161 310h1v2h-1zM162 309h1v1h-1zM163 307h1v2h-1zM164 306h2v1h-2zM166 305h3v1h-3zM169 304h2v1h-2zM171 305h1v1h-1zM172 306h1v1h-1zM173 307h1v2h-1zM174 309h1v1h-1zM175 310h1v1h-1zM176 309h2v1h-2zM178 308h2v1h-2zM180 309h1v1h-1zM181 310h1v1h-1zM182 311h1v1h-1zM183 312h1v2h-1zM184 314h1v4h-1zM185 318h1v3h-1zM186 321h1v3h-1zM187 324h1v3h-1zM188 327h1v3h-1zM189 330h1v2h-1zM190 332h1v3h-1zM191 335h3v1h-3zM191 336h1v1h-1zM194 334h2v1h-2zM196 335h1v2h-1zM197 337h1v2h-1zM198 339h1v2h-1zM199 341h2v1h-2zM201 342h2v1h-2zM203 343h2v1h-2zM204 344h1v2h-1zM205 346h1v4h-1zM206 350h1v4h-1zM207 354h1v4h-1zM208 358h1v4h-1zM209 362h1v3h-1zM210 365h1v3h-1zM211 368h1v4h-1zM212 372h1v2h-1zM213 374h1v2h-1zM214 376h1v1h-1zM215 377h1v2h-1zM216 379h1v1h-1zM217 378h1v1h-1zM218 376h1v2h-1zM219 375h2v1h-2zM220 374h1v1h-1zM221 376h1v2h-1zM222 378h1v2h-1zM223 380h1v2h-1zM224 382h1v2h-1zM225 383h1v1h-1zM226 384h4v1h-4zM230 385h3v1h-3zM233 386h1v1h-1zM234 387h2v1h-2zM236 388h1v1h-1zM237 389h1v1h-1zM238 390h2v1h-2zM240 391h1v1h-1zM241 392h1v2h-1zM242 394h1v2h-1zM243 396h1v2h-1zM244 398h1v2h-1zM245 400h1v2h-1zM246 402h1v2h-1zM247 404h1v2h-1zM248 406h1v2h-1zM249 408h1v1h-1zM250 409h1v1h-1zM251 410h2v1h-2zM253 411h1v1h-1zM254 412h1v1h-1zM255 413h1v1h-1zM256 414h1v1h-1zM257 415h1v2h-1zM258 417h1v1h-1zM259 418h2v1h-2zM260 419h1v1h-1zM261 415h1v3h-1zM262 412h1v3h-1zM263 410h1v2h-1zM264 407h1v3h-1zM265 404h1v3h-1zM266 400h1v4h-1zM267 394h1v6h-1zM268 388h1v6h-1zM269 382h1v6h-1zM270 378h1v4h-1zM271 374h1v4h-1zM272 370h1v4h-1zM273 366h1v4h-1zM274 362h1v4h-1zM275 358h1v4h-1zM276 355h1v3h-1zM277 351h1v4h-1zM278 347h1v4h-1zM279 343h1v4h-1zM280 339h1v4h-1zM281 334h1v5h-1zM282 330h1v4h-1zM283 326h1v4h-1zM284 322h1v4h-1zM285 318h1v4h-1zM286 314h1v4h-1zM287 310h1v4h-1zM288 307h1v3h-1zM289 305h1v2h-1zM290 303h1v2h-1zM291 301h1v2h-1zM292 299h1v2h-1zM293 297h1v2h-1zM294 295h1v2h-1zM295 294h5v1h-5zM300 295h1v1h-1zM301 296h1v1h-1zM302 297h1v1h-1zM303 298h1v1h-1zM304 299h1v1h-1zM305 300h1v1h-1zM306 301h1v1h-1zM307 302h1v1h-1zM308 303h1v1h-1zM309 304h2v1h-2zM311 305h2v1h-2zM313 306h1v1h-1zM314 307h1v2h-1zM315 309h2v1h-2zM317 310h2v1h-2zM319 311h6v1h-6zM325 310h1v1h-1zM326 309h1v1h-1zM327 308h1v1h-1zM328 307h1v1h-1zM329 306h1v1h-1zM330 305h1v1h-1zM331 303h1v2h-1zM332 300h1v3h-1zM333 297h1v3h-1zM334 295h1v2h-1zM335 293h1v2h-1zM336 291h1v2h-1zM337 289h1v2h-1zM338 286h1v3h-1zM339 284h1v2h-1zM340 282h1v2h-1zM341 279h1v3h-1zM342 276h1v3h-1zM343 273h1v3h-1zM344 269h1v4h-1zM345 266h1v3h-1zM346 264h1v2h-1zM347 263h1v1h-1zM348 261h1v2h-1zM349 260h1v1h-1zM350 259h1v1h-1zM351 258h1v1h-1zM352 256h1v2h-1zM353 255h1v1h-1zM354 253h1v2h-1zM355 249h1v4h-1zM356 246h1v3h-1zM357 242h1v4h-1zM358 238h1v4h-1zM359 236h1v2h-1zM360 234h1v2h-1zM361 232h1v2h-1zM362 230h1v2h-1zM363 228h1v2h-1zM364 226h1v2h-1zM365 225h1v1h-1zM366 224h2v1h-2zM368 223h1v1h-1zM369 222h1v1h-1zM370 221h2v1h-2zM372 220h1v1h-1zM373 218h1v2h-1zM374 217h1v1h-1zM375 215h1v2h-1zM376 214h1v1h-1zM377 212h1v2h-1zM378 211h1v1h-1zM379 209h1v2h-1zM380 208h1v1h-1zM381 209h1v1h-1zM382 210h1v1h-1zM383 211h1v1h-1zM384 212h1v1h-1zM385 213h1v2h-1zM386 215h1v2h-1zM387 217h1v2h-1zM388 219h1v2h-1zM389 221h1v2h-1zM390 223h1v2h-1zM391 225h1v2h-1zM392 227h1v2h-1zM393 229h1v2h-1zM394 231h1v1h-1zM395 232h1v2h-1zM396 234h1v1h-1zM397 235h1v2h-1zM398 237h1v1h-1zM399 238h1v2h-1zM400 240h1v1h-1zM401 241h1v2h-1zM402 243h1v2h-1zM403 245h1v2h-1zM404 247h1v2h-1zM405 249h1v2h-1zM406 251h1v1h-1zM407 252h2v1h-2zM409 253h2v1h-2zM411 254h2v1h-2zM413 255h2v1h-2zM415 256h1v1h-1zM416 257h2v1h-2zM418 258h2v1h-2zM420 259h2v1h-2zM422 260h4v1h-4zM426 261h2v1h-2zM428 260h1v1h-1zM429 259h1v1h-1zM430 258h1v1h-1zM431 257h1v1h-1zM432 256h1v1h-1zM433 255h1v1h-1zM434 253h1v2h-1zM435 251h1v2h-1zM436 249h1v2h-1zM437 246h1v3h-1zM438 244h1v2h-1zM439 242h1v2h-1zM440 239h1v3h-1zM441 236h1v3h-1zM442 232h1v4h-1zM443 229h1v3h-1zM444 226h1v3h-1zM445 223h1v3h-1zM446 219h1v4h-1zM447 216h1v3h-1zM448 213h1v3h-1zM449 210h1v3h-1zM450 207h1v3h-1zM451 204h1v3h-1zM452 202h1v2h-1zM453 199h1v3h-1zM454 196h1v3h-1zM455 193h1v3h-1zM456 191h3v1h-3zM456 192h1v1h-1zM459 192h4v1h-4zM463 193h1v2h-1zM464 195h1v2h-1zM465 197h1v1h-1zM466 198h1v2h-1zM467 200h1v2h-1zM468 202h1v1h-1zM469 203h1v2h-1zM470 205h1v2h-1zM471 207h1v2h-1zM472 209h1v2h-1zM473 211h1v2h-1zM474 213h1v2h-1zM475 215h1v2h-1zM476 217h1v2h-1zM477 219h1v3h-1zM478 222h1v4h-1zM479 226h1v3h-1zM480 229h1v6h-1zM481 235h1v8h-1zM482 243h1v6h-1zM483 249h1v4h-1zM484 253h1v3h-1zM485 256h1v3h-1zM486 259h1v4h-1zM487 263h1v3h-1zM488 266h1v3h-1zM489 269h1v2h-1zM490 271h1v3h-1zM491 274h1v3h-1zM492 277h1v3h-1zM493 280h1v3h-1zM494 283h1v4h-1zM495 287h1v3h-1zM496 290h1v3h-1zM497 293h1v3h-1zM498 296h1v3h-1zM499 299h1v3h-1zM500 302h1v2h-1zM501 304h1v2h-1zM502 306h1v2h-1zM503 308h1v2h-1zM504 310h1v1h-1zM505 311h1v1h-1zM506 312h1v1h-1zM507 313h1v1h-1zM508 314h1v1h-1zM509 313h1v1h-1zM510 312h1v1h-1zM511 311h1v1h-1zM512 310h1v1h-1zM513 309h1v1h-1zM514 308h1v1h-1zM515 307h1v1h-1zM516 306h2v1h-2zM518 305h1v1h-1zM519 304h1v1h-1zM520 302h1v2h-1zM521 301h1v1h-1zM522 299h1v2h-1zM523 297h1v2h-1zM524 295h1v2h-1zM525 293h1v2h-1zM526 291h1v2h-1zM527 290h1v1h-1zM528 289h1v1h-1zM529 287h1v2h-1zM530 286h1v1h-1zM531 285h1v1h-1zM532 284h1v1h-1zM533 282h1v2h-1zM534 281h1v1h-1zM535 280h1v1h-1zM536 278h1v2h-1zM537 277h1v1h-1zM538 275h1v2h-1zM539 273h1v2h-1zM540 271h1v2h-1zM541 270h1v1h-1zM542 269h1v1h-1zM543 267h1v2h-1zM544 266h1v1h-1zM545 265h1v1h-1zM546 263h1v2h-1zM547 262h6v1h-6zM553 261h1v1h-1zM554 260h1v1h-1zM555 259h1v1h-1zM556 257h1v2h-1zM557 255h1v2h-1zM558 253h1v2h-1zM559 251h1v2h-1zM560 250h1v1h-1zM561 249h1v1h-1zM562 248h1v1h-1zM563 247h1v1h-1zM564 246h1v1h-1zM565 245h1v1h-1zM566 244h1v1h-1zM567 243h2v1h-2zM569 242h1v1h-1zM570 241h1v1h-1zM571 240h1v1h-1zM572 238h1v2h-1zM573 235h1v3h-1zM574 231h1v4h-1zM575 228h1v3h-1zM576 225h1v3h-1zM577 221h1v4h-1zM578 217h1v4h-1zM579 213h1v4h-1zM580 209h1v4h-1zM581 205h1v4h-1zM582 201h1v4h-1zM583 197h1v4h-1zM584 194h1v3h-1zM585 190h1v4h-1zM586 186h1v4h-1zM587 182h1v4h-1zM588 178h1v4h-1zM589 174h1v4h-1zM590 170h1v4h-1zM591 166h1v4h-1zM592 161h1v5h-1zM593 157h1v4h-1zM594 153h1v4h-1zM595 147h1v6h-1zM596 141h1v6h-1zM597 134h1v7h-1zM598 128h1v6h-1zM599 123h1v5h-1zM600 120h1v3h-1zM601 116h1v4h-1zM602 114h1v2h-1zM603 112h1v2h-1zM604 110h1v2h-1zM605 108h1v2h-1zM606 106h1v2h-1zM607 104h1v2h-1zM608 102h1v2h-1zM609 100h1v2h-1zM610 98h1v2h-1zM611 97h1v1h-1zM612 95h1v2h-1zM613 94h1v1h-1zM614 92h1v2h-1zM615 90h1v2h-1zM616 89h1v1h-1zM617 88h1v1h-1zM618 86h1v2h-1zM619 85h2v1h-2zM621 86h2v1h-2zM623 87h1v1h-1zM624 88h2v1h-2zM626 89h2v1h-2zM628 90h1v1h-1zM629 91h1v1h-1zM630 92h1v1h-1zM631 93h1v1h-1zM632 94h1v1h-1zM633 95h2v1h-2zM635 96h2v1h-2zM637 97h2v1h-2zM639 98h6v1h-6zM645 97h4v1h-4zM649 98h2v1h-2zM651 99h1v2h-1zM652 101h1v2h-1zM653 103h1v1h-1zM654 104h1v2h-1zM655 106h1v2h-1zM656 108h1v3h-1zM657 111h1v3h-1zM658 114h1v2h-1zM659 116h1v2h-1zM660 118h1v2h-1zM661 120h1v3h-1zM662 123h1v2h-1zM663 125h1v3h-1zM664 128h1v3h-1zM665 131h1v3h-1zM666 134h1v2h-1zM667 136h1v3h-1zM668 139h1v4h-1zM669 143h1v4h-1zM670 147h1v5h-1zM671 152h1v4h-1zM672 156h1v4h-1zM673 160h1v2h-1zM674 162h1v2h-1zM675 164h1v2h-1zM676 166h1v2h-1zM677 168h1v2h-1zM678 170h1v2h-1zM679 172h2v1h-2zM681 173h1v1h-1zM682 174h2v1h-2zM684 175h1v1h-1zM685 176h2v1h-2zM687 177h1v1h-1zM688 175h1v2h-1zM689 174h1v1h-1zM690 173h1v1h-1zM691 171h1v2h-1zM692 170h2v1h-2zM694 171h3v1h-3zM697 172h1v2h-1zM698 174h1v2h-1zM699 176h1v2h-1zM700 178h1v2h-1zM701 180h1v2h-1zM702 182h1v3h-1zM703 185h1v3h-1zM704 188h1v2h-1zM705 190h1v3h-1zM706 193h1v3h-1zM707 196h1v2h-1zM708 198h1v2h-1zM709 200h1v2h-1zM710 202h1v2h-1zM711 204h1v2h-1zM712 206h1v2h-1zM713 208h2v1h-2zM715 209h1v1h-1zM716 210h2v1h-2zM718 211h2v1h-2zM720 212h1v1h-1zM721 213h2v1h-2zM723 214h1v1h-1zM724 215h1v1h-1zM725 216h2v1h-2zM727 217h1v1h-1zM728 218h2v1h-2zM730 219h1v1h-1zM731 220h1v2h-1zM732 222h1v2h-1zM733 224h1v2h-1zM734 226h1v2h-1zM735 228h1v2h-1zM736 230h1v2h-1zM737 232h1v4h-1zM738 236h1v4h-1zM739 240h1v4h-1zM740 244h1v5h-1zM741 249h1v4h-1zM742 253h1v5h-1zM743 258h1v4h-1zM744 262h1v5h-1zM745 267h1v6h-1zM746 273h1v6h-1zM747 279h1v6h-1zM748 285h1v5h-1zM749 290h1v5h-1zM750 295h1v5h-1zM751 300h1v4h-1zM752 304h1v5h-1zM753 309h1v5h-1zM754 314h1v4h-1zM755 318h1v3h-1zM756 321h1v3h-1zM757 324h1v2h-1zM758 326h1v3h-1zM759 329h1v3h-1zM760 332h1v2h-1zM761 333h2v1h-2zM763 332h5v1h-5zM768 331h3v1h-3zM771 329h1v2h-1zM772 327h1v2h-1zM773 325h1v2h-1zM774 323h1v2h-1zM775 321h1v2h-1zM776 319h1v2h-1zM777 316h1v3h-1zM778 313h1v3h-1zM779 310h1v3h-1zM780 307h1v3h-1zM781 304h1v3h-1zM782 301h1v3h-1zM783 298h1v3h-1zM784 295h1v3h-1zM785 293h1v2h-1zM786 290h1v3h-1zM787 288h1v2h-1zM788 285h1v3h-1zM789 283h1v2h-1zM790 281h1v2h-1zM791 282h2v1h-2zM792 283h1v2h-1zM793 285h1v4h-1zM794 289h1v5h-1zM795 294h1v4h-1zM796 298h1v5h-1zM797 303h1v6h-1zM798 309h1v5h-1zM799 314h1v6h-1zM800 320h1v6h-1zM801 326h1v8h-1zM802 334h1v8h-1zM803 342h1v8h-1zM804 350h1v8h-1zM805 358h1v8h-1zM806 366h1v8h-1zM807 374h1v7h-1zM808 381h1v7h-1zM809 388h1v7h-1zM810 395h1v7h-1zM811 402h1v7h-1zM812 409h1v7h-1zM813 416h1v8h-1zM814 424h1v7h-1zM815 431h1v8h-1zM816 439h1v5h-1zM817 444h1v4h-1zM818 448h1v4h-1zM819 452h1v4h-1zM820 456h1v3h-1zM821 459h1v2h-1zM822 461h1v2h-1zM823 463h1v2h-1zM824 465h1v2h-1zM825 465h1v1h-1zM826 464h1v1h-1zM827 463h1v1h-1zM828 461h1v2h-1zM829 457h1v4h-1zM830 454h1v3h-1zM831 450h1v4h-1zM832 446h1v4h-1zM833 442h1v4h-1zM834 437h1v5h-1zM835 433h1v4h-1zM836 428h1v5h-1zM837 424h1v4h-1zM838 420h1v4h-1zM839 417h1v3h-1zM840 415h1v2h-1zM841 412h1v3h-1zM842 409h1v3h-1zM843 406h1v3h-1zM844 404h1v2h-1zM845 401h1v3h-1zM846 397h1v4h-1zM847 392h1v5h-1zM848 387h1v5h-1zM849 383h1v4h-1zM850 378h1v5h-1zM851 373h1v5h-1zM852 368h1v5h-1zM853 363h1v5h-1zM854 359h1v4h-1zM855 354h1v5h-1zM856 351h1v3h-1zM857 349h1v2h-1zM858 348h1v1h-1zM859 346h1v2h-1zM860 345h1v1h-1zM861 344h2v1h-2zM863 343h1v1h-1zM864 341h1v2h-1zM865 339h1v2h-1zM866 337h1v2h-1zM867 336h1v1h-1zM868 335h2v1h-2zM870 336h2v1h-2zM872 337h1v2h-1zM873 339h1v2h-1zM874 341h1v2h-1zM875 343h1v2h-1zM876 345h1v3h-1zM877 348h1v2h-1zM878 350h1v2h-1zM879 352h1v1h-1zM880 353h1v2h-1zM881 355h1v2h-1zM882 357h1v2h-1zM883 359h1v2h-1zM884 361h1v2h-1zM885 363h1v2h-1zM886 365h1v2h-1zM887 367h1v2h-1zM888 369h1v2h-1zM889 371h1v2h-1zM890 373h1v2h-1zM891 375h1v2h-1zM892 377h1v2h-1zM893 379h1v2h-1zM894 381h1v2h-1zM895 383h1v2h-1zM896 385h1v2h-1zM897 387h2v1h-2zM899 388h2v1h-2zM901 389h2v1h-2zM903 390h3v1h-3zM906 391h2v1h-2zM908 392h3v1h-3zM911 393h2v1h-2zM913 392h1v1h-1zM914 390h1v2h-1zM915 389h1v1h-1zM916 387h1v2h-1zM917 384h1v3h-1zM918 380h1v4h-1zM919 377h1v3h-1zM920 374h1v3h-1zM921 370h1v4h-1zM922 367h1v3h-1zM923 364h1v3h-1zM924 361h1v3h-1zM925 359h1v2h-1zM926 356h1v3h-1zM927 353h1v3h-1zM928 350h1v3h-1zM929 348h1v2h-1zM930 345h1v3h-1zM931 342h1v3h-1zM932 339h1v3h-1zM933 336h1v3h-1zM934 334h1v2h-1zM935 332h1v2h-1zM936 330h1v2h-1zM937 328h1v2h-1zM938 326h1v2h-1zM939 324h1v2h-1zM940 323h1v2h-1zM941 325h1v2h-1zM942 327h1v3h-1zM943 330h1v4h-1zM944 334h1v4h-1zM945 338h1v4h-1zM946 342h1v3h-1zM947 345h1v4h-1zM948 349h1v5h-1zM949 354h1v6h-1zM950 360h1v6h-1zM951 366h1v6h-1zM952 372h1v6h-1zM953 378h1v5h-1zM954 383h1v6h-1zM955 389h1v6h-1zM956 395h1v5h-1zM957 400h1v5h-1zM958 405h1v5h-1zM959 410h1v5h-1zM960 415h1v5h-1zM961 420h1v5h-1zM962 425h1v5h-1zM963 430h1v5h-1zM964 435h1v5h-1zM965 440h1v4h-1zM966 444h1v5h-1zM967 449h1v5h-1zM968 454h1v5h-1zM969 459h1v4h-1zM970 463h1v4h-1zM971 467h1v5h-1zM972 472h1v4h-1zM973 476h1v5h-1zM974 481h1v4h-1zM975 485h1v4h-1zM976 489h1v3h-1zM977 489h1v2h-1zM978 488h1v1h-1zM979 486h1v2h-1zM980 485h1v1h-1zM981 486h2v1h-2zM983 487h2v1h-2zM985 486h2v1h-2zM987 485h2v1h-2zM989 483h1v2h-1zM990 481h1v2h-1zM991 479h1v2h-1zM992 477h1v2h-1zM993 475h1v2h-1zM994 473h1v2h-1zM995 471h1v2h-1zM996 468h1v3h-1zM997 465h1v3h-1zM998 463h1v2h-1zM999 460h1v3h-1zM1000 457h1v3h-1zM1001 455h1v2h-1zM1002 453h1v2h-1zM1003 451h1v2h-1zM1004 448h1v3h-1zM1005 446h1v2h-1zM1006 444h1v2h-1zM1007 442h1v2h-1zM1008 439h1v3h-1zM1009 436h1v3h-1zM1010 434h1v2h-1zM1011 431h1v3h-1zM1012 429h1v2h-1zM1013 430h1v1h-1zM1014 431h2v1h-2zM1016 432h1v1h-1zM1017 433h1v2h-1zM1018 435h1v1h-1zM1019 436h1v2h-1zM1020 438h9v1h-9zM1029 437h1v1h-1zM1030 436h1v1h-1zM1031 434h1v2h-1zM1032 433h1v1h-1zM1033 432h1v1h-1zM1034 431h1v1h-1zM1035 429h1v2h-1zM1036 427h1v2h-1zM1037 425h1v2h-1zM1038 423h1v2h-1zM1039 419h1v4h-1zM1040 415h1v4h-1zM1041 411h1v4h-1zM1042 407h1v4h-1zM1043 403h1v4h-1zM1044 398h1v5h-1zM1045 393h1v5h-1zM1046 388h1v5h-1zM1047 383h1v5h-1zM1048 380h1v3h-1zM1049 378h1v2h-1zM1050 376h1v2h-1zM1051 374h1v2h-1zM1052 372h1v2h-1zM1053 372h1v1h-1zM1054 371h3v1h-3zM1057 369h1v2h-1zM1058 368h1v1h-1zM1059 366h1v2h-1zM1060 365h1v1h-1zM1061 364h2v1h-2zM1063 363h2v1h-2zM1065 364h1v1h-1zM1066 365h1v1h-1zM1067 366h1v1h-1zM1068 367h1v1h-1zM1069 366h1v1h-1zM1070 365h1v1h-1zM1071 364h1v1h-1zM1072 363h1v1h-1zM1073 362h1v1h-1zM1074 361h1v1h-1zM1075 360h1v1h-1zM1076 359h1v1h-1zM1077 358h1v1h-1zM1078 356h1v2h-1zM1079 353h1v3h-1zM1080 351h1v2h-1zM1081 348h1v3h-1zM1082 345h1v3h-1zM1083 343h1v2h-1zM1084 341h1v2h-1zM1085 339h1v2h-1zM1086 337h3v1h-3zM1086 338h1v1h-1zM1089 336h4v1h-4zM1093 334h1v2h-1zM1094 333h1v1h-1zM1095 331h1v2h-1zM1096 330h5v1h-5zM1101 328h1v2h-1zM1102 327h1v1h-1zM1103 325h1v2h-1zM1104 324h8v1h-8zM1112 323h3v1h-3zM1115 322h2v1h-2zM1117 321h2v1h-2zM1119 320h2v1h-2zM1121 321h1v2h-1zM1122 323h1v2h-1zM1123 325h1v2h-1zM1124 327h1v2h-1zM1125 329h1v2h-1zM1126 331h1v2h-1zM1127 333h1v1h-1z" fill="#0000d0"/>
</g>
<g class="crisp">
<rect x="3" y="149" width="1417" height="3" fill="#ff0000"/>
<rect x="3" y="244" width="1417" height="3" fill="#ff0000"/>
<rect x="3" y="304" width="1417" height="3" fill="#00ff00"/>
<rect x="3" y="425" width="1417" height="3" fill="#0000ff"/>
<rect x="3" y="512" width="1417" height="3" fill="#0000ff"/>
<rect x="1419" y="31" width="2" height="1" fill="#000"/>
<rect x="1419" y="64" width="2" height="1" fill="#000"/>
<rect x="1419" y="97" width="2" height="1" fill="#000"/>
<rect x="1419" y="130" width="2" height="1" fill="#000"/>
<rect x="1419" y="163" width="2" height="1" fill="#000"/>
<rect x="1419" y="196" width="2" height="1" fill="#000"/>
<rect x="1419" y="229" width="2" height="1" fill="#000"/>
<rect x="1419" y="262" width="2" height="1" fill="#000"/>
<rect x="1419" y="295" width="2" height="1" fill="#000"/>
<rect x="1419" y="328" width="2" height="1" fill="#000"/>
<rect x="1419" y="361" width="2" height="1" fill="#000"/>
<rect x="1419" y="394" width="2" height="1" fill="#000"/>
<rect x="1419" y="427" width="2" height="1" fill="#000"/>
<rect x="1419" y="460" width="2" height="1" fill="#000"/>
<rect x="1419" y="493" width="2" height="1" fill="#000"/>
<rect x="1419" y="526" width="2" height="1" fill="#000"/>
<rect x="1419" y="559" width="2" height="1" fill="#000"/>
<rect x="1420" y="144" width="41" height="11" fill="#ff0000"/>
<rect x="1420" y="239" width="41" height="11" fill="#ff0000"/>
<rect x="1420" y="299" width="41" height="11" fill="#00ff00"/>
<rect x="1420" y="420" width="41" height="11" fill="#0000ff"/>
<rect x="1420" y="507" width="41" height="11" fill="#0000ff"/>
<rect x="1420" y="365" width="41" height="11" fill="#000"/>
<rect x="1419" y="566" width="1" height="1" fill="#000"/>
<rect x="1419" y="612" width="1" height="1" fill="#000"/>
<rect x="1419" y="666" width="1" height="1" fill="#000"/>
<rect x="1419" y="671" width="1" height="1" fill="#000"/>
<rect x="1419" y="709" width="1" height="1" fill="#000"/>
<rect x="1419" y="760" width="1" height="1" fill="#000"/>
<rect x="1419" y="797" width="1" height="1" fill="#000"/>
<rect x="3" y="576" width="1" height="36" fill="#c0c0c0"/>
<rect x="7" y="576" width="1" height="36" fill="#c0c0c0"/>
<rect x="11" y="576" width="1" height="36" fill="#c0c0c0"/>
<rect x="15" y="576" width="1" height="36" fill="#c0c0c0"/>
<rect x="19" y="577" width="1" height="35" fill="#c0c0c0"/>
<rect x="23" y="578" width="1" height="34" fill="#c0c0c0"/>
<rect x="27" y="580" width="1" height="32" fill="#c0c0c0"/>
<rect x="31" y="580" width="1" height="32" fill="#c0c0c0"/>
<rect x="35" y="580" width="1" height="32" fill="#c0c0c0"/>
<rect x="39" y="580" width="1" height="32" fill="#c0c0c0"/>
<rect x="43" y="579" width="1" height="33" fill="#c0c0c0"/>
<rect x="47" y="580" width="1" height="32" fill="#c0c0c0"/>
<rect x="51" y="582" width="1" height="30" fill="#c0c0c0"/>
<rect x="55" y="583" width="1" height="29" fill="#c0c0c0"/>
<rect x="59" y="588" width="1" height="24" fill="#c0c0c0"/>
<rect x="63" y="593" width="1" height="19" fill="#c0c0c0"/>
<rect x="67" y="600" width="1" height="12" fill="#c0c0c0"/>
<rect x="71" y="605" width="1" height="7" fill="#c0c0c0"/>
<rect x="75" y="609" width="1" height="3" fill="#c0c0c0"/>
<rect x="79" y="611" width="1" height="1" fill="#c0c0c0"/>
<rect x="83" y="611" width="1" height="1" fill="#c0c0c0"/>
<rect x="87" y="611" width="1" height="1" fill="#c0c0c0"/>
<rect x="91" y="611" width="1" height="1" fill="#c0c0c0"/>
<rect x="95" y="611" width="1" height="1" fill="#c0c0c0"/>
<rect x="99" y="611" width="1" height="6" fill="#c0c0c0"/>
<rect x="103" y="611" width="1" height="7" fill="#c0c0c0"/>
<rect x="107" y="611" width="1" height="4" fill="#c0c0c0"/>
<rect x="111" y="611" width="1" height="4" fill="#c0c0c0"/>
<rect x="115" y="611" width="1" height="4" fill="#c0c0c0"/>
<rect x="119" y="611" width="1" height="4" fill="#c0c0c0"/>
<rect x="123" y="611" width="1" height="4" fill="#c0c0c0"/>
<rect x="127" y="611" width="1" height="7" fill="#c0c0c0"/>
<rect x="131" y="611" width="1" height="11" fill="#c0c0c0"/>
<rect x="135" y="611" width="1" height="14" fill="#c0c0c0"/>
<rect x="139" y="611" width="1" height="15" fill="#c0c0c0"/>
<rect x="143" y="611" width="1" height="14" fill="#c0c0c0"/>
<rect x="147" y="611" width="1" height="15" fill="#c0c0c0"/>
<rect x="151" y="611" width="1" height="14" fill="#c0c0c0"/>
<rect x="155" y="611" width="1" height="11" fill="#c0c0c0"/>
<rect x="159" y="611" width="1" height="8" fill="#c0c0c0"/>
<rect x="163" y="611" width="1" height="8" fill="#c0c0c0"/>
<rect x="167" y="611" width="1" height="9" fill="#c0c0c0"/>
<rect x="171" y="611" width="1" height="9" fill="#c0c0c0"/>
<rect x="175" y="611" width="1" height="10" fill="#c0c0c0"/>
<rect x="179" y="611" width="1" height="11" fill="#c0c0c0"/>
<rect x="183" y="611" width="1" height="11" fill="#c0c0c0"/>
<rect x="187" y="611" width="1" height="13" fill="#c0c0c0"/>
<rect x="191" y="611" width="1" height="15" fill="#c0c0c0"/>
<rect x="195" y="611" width="1" height="13" fill="#c0c0c0"/>
<rect x="199" y="611" width="1" height="14" fill="#c0c0c0"/>
<rect x="203" y="611" width="1" height="16" fill="#c0c0c0"/>
<rect x="207" y="611" width="1" height="19" fill="#c0c0c0"/>
<rect x="211" y="611" width="1" height="22" fill="#c0c0c0"/>
<rect x="215" y="611" width="1" height="24" fill="#c0c0c0"/>
<rect x="219" y="611" width="1" height="21" fill="#c0c0c0"/>
<rect x="223" y="611" width="1" height="20" fill="#c0c0c0"/>
<rect x="227" y="611" width="1" height="20" fill="#c0c0c0"/>
<rect x="231" y="611" width="1" height="20" fill="#c0c0c0"/>
<rect x="235" y="611" width="1" height="22" fill="#c0c0c0"/>
<rect x="239" y="611" width="1" height="23" fill="#c0c0c0"/>
<rect x="243" y="611" width="1" height="28" fill="#c0c0c0"/>
<rect x="247" y="611" width="1" height="25" fill="#c0c0c0"/>
<rect x="251" y="611" width="1" height="23" fill="#c0c0c0"/>
<rect x="255" y="611" width="1" height="22" fill="#c0c0c0"/>
<rect x="259" y="611" width="1" height="21" fill="#c0c0c0"/>
<rect x="263" y="611" width="1" height="17" fill="#c0c0c0"/>
<rect x="267" y="611" width="1" height="12" fill="#c0c0c0"/>
<rect x="271" y="611" width="1" height="6" fill="#c0c0c0"/>
<rect x="275" y="611" width="1" height="1" fill="#c0c0c0"/>
<rect x="279" y="608" width="1" height="4" fill="#c0c0c0"/>
<rect x="283" y="603" width="1" height="9" fill="#c0c0c0"/>
<rect x="287" y="600" width="1" height="12" fill="#c0c0c0"/>
<rect x="291" y="599" width="1" height="13" fill="#c0c0c0"/>
<rect x="295" y="597" width="1" height="15" fill="#c0c0c0"/>
<rect x="299" y="598" width="1" height="14" fill="#c0c0c0"/>
<rect x="303" y="599" width="1" height="13" fill="#c0c0c0"/>
<rect x="307" y="600" width="1" height="12" fill="#c0c0c0"/>
<rect x="311" y="599" width="1" height="13" fill="#c0c0c0"/>
<rect x="315" y="600" width="1" height="12" fill="#c0c0c0"/>
<rect x="319" y="600" width="1" height="12" fill="#c0c0c0"/>
<rect x="323" y="600" width="1" height="12" fill="#c0c0c0"/>
<rect x="327" y="599" width="1" height="13" fill="#c0c0c0"/>
<rect x="331" y="599" width="1" height="13" fill="#c0c0c0"/>
<rect x="335" y="596" width="1" height="16" fill="#c0c0c0"/>
<rect x="339" y="593" width="1" height="19" fill="#c0c0c0"/>
<rect x="343" y="591" width="1" height="21" fill="#c0c0c0"/>
<rect x="347" y="591" width="1" height="21" fill="#c0c0c0"/>
<rect x="351" y="592" width="1" height="20" fill="#c0c0c0"/>
<rect x="355" y="590" width="1" height="22" fill="#c0c0c0"/>
<rect x="359" y="587" width="1" height="25" fill="#c0c0c0"/>
<rect x="363" y="584" width="1" height="28" fill="#c0c0c0"/>
<rect x="367" y="584" width="1" height="28" fill="#c0c0c0"/>
<rect x="371" y="584" width="1" height="28" fill="#c0c0c0"/>
<rect x="375" y="585" width="1" height="27" fill="#c0c0c0"/>
<rect x="379" y="586" width="1" height="26" fill="#c0c0c0"/>
<rect x="383" y="589" width="1" height="23" fill="#c0c0c0"/>
<rect x="387" y="592" width="1" height="20" fill="#c0c0c0"/>
<rect x="391" y="594" width="1" height="18" fill="#c0c0c0"/>
<rect x="395" y="597" width="1" height="15" fill="#c0c0c0"/>
<rect x="399" y="599" width="1" height="13" fill="#c0c0c0"/>
<rect x="403" y="601" width="1" height="11" fill="#c0c0c0"/>
<rect x="407" y="602" width="1" height="10" fill="#c0c0c0"/>
<rect x="411" y="603" width="1" height="9" fill="#c0c0c0"/>
<rect x="415" y="606" width="1" height="6" fill="#c0c0c0"/>
<rect x="419" y="607" width="1" height="5" fill="#c0c0c0"/>
<rect x="423" y="609" width="1" height="3" fill="#c0c0c0"/>
<rect x="427" y="609" width="1" height="3" fill="#c0c0c0"/>
<rect x="431" y="606" width="1" height="6" fill="#c0c0c0"/>
<rect x="435" y="604" width="1" height="8" fill="#c0c0c0"/>
<rect x="439" y="600" width="1" height="12" fill="#c0c0c0"/>
<rect x="443" y="598" width="1" height="14" fill="#c0c0c0"/>
<rect x="447" y="597" width="1" height="15" fill="#c0c0c0"/>
<rect x="451" y="594" width="1" height="18" fill="#c0c0c0"/>
<rect x="455" y="594" width="1" height="18" fill="#c0c0c0"/>
<rect x="459" y="597" width="1" height="15" fill="#c0c0c0"/>
<rect x="463" y="599" width="1" height="13" fill="#c0c0c0"/>
<rect x="467" y="601" width="1" height="11" fill="#c0c0c0"/>
<rect x="471" y="603" width="1" height="9" fill="#c0c0c0"/>
<rect x="475" y="605" width="1" height="7" fill="#c0c0c0"/>
<rect x="479" y="609" width="1" height="3" fill="#c0c0c0"/>
<rect x="483" y="611" width="1" height="4" fill="#c0c0c0"/>
<rect x="487" y="611" width="1" height="10" fill="#c0c0c0"/>
<rect x="491" y="611" width="1" height="12" fill="#c0c0c0"/>
<rect x="495" y="611" width="1" height="14" fill="#c0c0c0"/>
<rect x="499" y="611" width="1" height="17" fill="#c0c0c0"/>
<rect x="503" y="611" width="1" height="18" fill="#c0c0c0"/>
<rect x="507" y="611" width="1" height="18" fill="#c0c0c0"/>
<rect x="511" y="611" width="1" height="17" fill="#c0c0c0"/>
<rect x="515" y="611" width="1" height="15" fill="#c0c0c0"/>
<rect x="519" y="611" width="1" height="14" fill="#c0c0c0"/>
<rect x="523" y="611" width="1" height="12" fill="#c0c0c0"/>
<rect x="527" y="611" width="1" height="10" fill="#c0c0c0"/>
<rect x="531" y="611" width="1" height="9" fill="#c0c0c0"/>
<rect x="535" y="611" width="1" height="7" fill="#c0c0c0"/>
<rect x="539" y="611" width="1" height="5" fill="#c0c0c0"/>
<rect x="543" y="611" width="1" height="4" fill="#c0c0c0"/>
<rect x="547" y="611" width="1" height="3" fill="#c0c0c0"/>
<rect x="551" y="611" width="1" height="1" fill="#c0c0c0"/>
<rect x="555" y="611" width="1" height="1" fill="#c0c0c0"/>
<rect x="559" y="609" width="1" height="3" fill="#c0c0c0"/>
<rect x="563" y="607" width="1" height="5" fill="#c0c0c0"/>
<rect x="567" y="606" width="1" height="6" fill="#c0c0c0"/>
<rect x="571" y="605" width="1" height="7" fill="#c0c0c0"/>
<rect x="575" y="601" width="1" height="11" fill="#c0c0c0"/>
<rect x="579" y="597" width="1" height="15" fill="#c0c0c0"/>
<rect x="583" y="591" width="1" height="21" fill="#c0c0c0"/>
<rect x="587" y="588" width="1" height="24" fill="#c0c0c0"/>
<rect x="591" y="584" width="1" height="28" fill="#c0c0c0"/>
<rect x="595" y="579" width="1" height="33" fill="#c0c0c0"/>
<rect x="599" y="576" width="1" height="36" fill="#c0c0c0"/>
<rect x="603" y="573" width="1" height="39" fill="#c0c0c0"/>
<rect x="607" y="572" width="1" height="40" fill="#c0c0c0"/>
<rect x="611" y="572" width="1" height="40" fill="#c0c0c0"/>
<rect x="615" y="572" width="1" height="40" fill="#c0c0c0"/>
<rect x="619" y="573" width="1" height="39" fill="#c0c0c0"/>
<rect x="623" y="574" width="1" height="38" fill="#c0c0c0"/>
<rect x="627" y="576" width="1" height="36" fill="#c0c0c0"/>
<rect x="631" y="578" width="1" height="34" fill="#c0c0c0"/>
<rect x="635" y="581" width="1" height="31" fill="#c0c0c0"/>
<rect x="639" y="583" width="1" height="29" fill="#c0c0c0"/>
<rect x="643" y="583" width="1" height="29" fill="#c0c0c0"/>
<rect x="647" y="584" width="1" height="28" fill="#c0c0c0"/>
<rect x="651" y="587" width="1" height="25" fill="#c0c0c0"/>
<rect x="655" y="592" width="1" height="20" fill="#c0c0c0"/>
<rect x="659" y="597" width="1" height="15" fill="#c0c0c0"/>
<rect x="663" y="604" width="1" height="8" fill="#c0c0c0"/>
<rect x="667" y="608" width="1" height="4" fill="#c0c0c0"/>
<rect x="671" y="611" width="1" height="1" fill="#c0c0c0"/>
<rect x="675" y="611" width="1" height="1" fill="#c0c0c0"/>
<rect x="679" y="611" width="1" height="1" fill="#c0c0c0"/>
<rect x="683" y="611" width="1" height="1" fill="#c0c0c0"/>
<rect x="687" y="611" width="1" height="3" fill="#c0c0c0"/>
<rect x="691" y="611" width="1" height="4" fill="#c0c0c0"/>
<rect x="695" y="611" width="1" height="5" fill="#c0c0c0"/>
<rect x="699" y="611" width="1" height="10" fill="#c0c0c0"/>
<rect x="703" y="611" width="1" height="14" fill="#c0c0c0"/>
<rect x="707" y="611" width="1" height="17" fill="#c0c0c0"/>
<rect x="711" y="611" width="1" height="17" fill="#c0c0c0"/>
<rect x="715" y="611" width="1" height="15" fill="#c0c0c0"/>
<rect x="719" y="611" width="1" height="13" fill="#c0c0c0"/>
<rect x="723" y="611" width="1" height="14" fill="#c0c0c0"/>
<rect x="727" y="611" width="1" height="15" fill="#c0c0c0"/>
<rect x="731" y="611" width="1" height="19" fill="#c0c0c0"/>
<rect x="735" y="611" width="1" height="25" fill="#c0c0c0"/>
<rect x="739" y="611" width="1" height="29" fill="#c0c0c0"/>
<rect x="743" y="611" width="1" height="31" fill="#c0c0c0"/>
<rect x="747" y="611" width="1" height="34" fill="#c0c0c0"/>
<rect x="751" y="611" width="1" height="39" fill="#c0c0c0"/>
<rect x="755" y="611" width="1" height="39" fill="#c0c0c0"/>
<rect x="759" y="611" width="1" height="41" fill="#c0c0c0"/>
<rect x="763" y="611" width="1" height="40" fill="#c0c0c0"/>
<rect x="767" y="611" width="1" height="37" fill="#c0c0c0"/>
<rect x="771" y="611" width="1" height="34" fill="#c0c0c0"/>
<rect x="775" y="611" width="1" height="30" fill="#c0c0c0"/>
<rect x="779" y="611" width="1" height="25" fill="#c0c0c0"/>
<rect x="783" y="611" width="1" height="22" fill="#c0c0c0"/>
<rect x="787" y="611" width="1" height="18" fill="#c0c0c0"/>
<rect x="791" y="611" width="1" height="19" fill="#c0c0c0"/>
<rect x="795" y="611" width="1" height="26" fill="#c0c0c0"/>
<rect x="799" y="611" width="1" height="34" fill="#c0c0c0"/>
<rect x="803" y="611" width="1" height="41" fill="#c0c0c0"/>
<rect x="807" y="611" width="1" height="48" fill="#c0c0c0"/>
<rect x="811" y="611" width="1" height="50" fill="#c0c0c0"/>
<rect x="815" y="611" width="1" height="51" fill="#c0c0c0"/>
<rect x="819" y="611" width="1" height="52" fill="#c0c0c0"/>
<rect x="823" y="611" width="1" height="52" fill="#c0c0c0"/>
<rect x="827" y="611" width="1" height="48" fill="#c0c0c0"/>
<rect x="831" y="611" width="1" height="42" fill="#c0c0c0"/>
<rect x="835" y="611" width="1" height="37" fill="#c0c0c0"/>
<rect x="839" y="611" width="1" height="33" fill="#c0c0c0"/>
<rect x="843" y="611" width="1" height="29" fill="#c0c0c0"/>
<rect x="847" y="611" width="1" height="22" fill="#c0c0c0"/>
<rect x="851" y="611" width="1" height="17" fill="#c0c0c0"/>
<rect x="855" y="611" width="1" height="11" fill="#c0c0c0"/>
<rect x="859" y="611" width="1" height="6" fill="#c0c0c0"/>
<rect x="863" y="611" width="1" height="5" fill="#c0c0c0"/>
<rect x="867" y="611" width="1" height="4" fill="#c0c0c0"/>
<rect x="871" y="611" width="1" height="6" fill="#c0c0c0"/>
<rect x="875" y="611" width="1" height="8" fill="#c0c0c0"/>
<rect x="879" y="611" width="1" height="9" fill="#c0c0c0"/>
<rect x="883" y="611" width="1" height="8" fill="#c0c0c0"/>
<rect x="887" y="611" width="1" height="7" fill="#c0c0c0"/>
<rect x="891" y="611" width="1" height="9" fill="#c0c0c0"/>
<rect x="895" y="611" width="1" height="11" fill="#c0c0c0"/>
<rect x="899" y="611" width="1" height="12" fill="#c0c0c0"/>
<rect x="903" y="611" width="1" height="11" fill="#c0c0c0"/>
<rect x="907" y="611" width="1" height="10" fill="#c0c0c0"/>
<rect x="911" y="611" width="1" height="9" fill="#c0c0c0"/>
<rect x="915" y="611" width="1" height="6" fill="#c0c0c0"/>
<rect x="919" y="611" width="1" height="1" fill="#c0c0c0"/>
<rect x="923" y="609" width="1" height="3" fill="#c0c0c0"/>
<rect x="927" y="607" width="1" height="5" fill="#c0c0c0"/>
<rect x="931" y="606" width="1" height="6" fill="#c0c0c0"/>
<rect x="935" y="604" width="1" height="8" fill="#c0c0c0"/>
<rect x="939" y="604" width="1" height="8" fill="#c0c0c0"/>
<rect x="943" y="610" width="1" height="2" fill="#c0c0c0"/>
<rect x="947" y="611" width="1" height="1" fill="#c0c0c0"/>
<rect x="951" y="611" width="1" height="12" fill="#c0c0c0"/>
<rect x="955" y="611" width="1" height="15" fill="#c0c0c0"/>
<rect x="959" y="611" width="1" height="20" fill="#c0c0c0"/>
<rect x="963" y="611" width="1" height="24" fill="#c0c0c0"/>
<rect x="967" y="611" width="1" height="26" fill="#c0c0c0"/>
<rect x="971" y="611" width="1" height="30" fill="#c0c0c0"/>
<rect x="975" y="611" width="1" height="33" fill="#c0c0c0"/>
<rect x="979" y="611" width="1" height="31" fill="#c0c0c0"/>
<rect x="983" y="611" width="1" height="30" fill="#c0c0c0"/>
<rect x="987" y="611" width="1" height="28" fill="#c0c0c0"/>
<rect x="991" y="611" width="1" height="26" fill="#c0c0c0"/>
<rect x="995" y="611" width="1" height="22" fill="#c0c0c0"/>
<rect x="999" y="611" width="1" height="18" fill="#c0c0c0"/>
<rect x="1003" y="611" width="1" height="17" fill="#c0c0c0"/>
<rect x="1007" y="611" width="1" height="13" fill="#c0c0c0"/>
<rect x="1011" y="611" width="1" height="9" fill="#c0c0c0"/>
<rect x="1015" y="611" width="1" height="11" fill="#c0c0c0"/>
<rect x="1019" y="611" width="1" height="14" fill="#c0c0c0"/>
<rect x="1023" y="611" width="1" height="12" fill="#c0c0c0"/>
<rect x="1027" y="611" width="1" height="9" fill="#c0c0c0"/>
<rect x="1031" y="611" width="1" height="7" fill="#c0c0c0"/>
<rect x="1035" y="611" width="1" height="1" fill="#c0c0c0"/>
<rect x="1039" y="607" width="1" height="5" fill="#c0c0c0"/>
<rect x="1043" y="603" width="1" height="9" fill="#c0c0c0"/>
<rect x="1047" y="599" width="1" height="13" fill="#c0c0c0"/>
<rect x="1051" y="598" width="1" height="14" fill="#c0c0c0"/>
<rect x="1055" y="601" width="1" height="11" fill="#c0c0c0"/>
<rect x="1059" y="601" width="1" height="11" fill="#c0c0c0"/>
<rect x="1063" y="600" width="1" height="12" fill="#c0c0c0"/>
<rect x="1067" y="598" width="1" height="14" fill="#c0c0c0"/>
<rect x="1071" y="595" width="1" height="17" fill="#c0c0c0"/>
<rect x="1075" y="594" width="1" height="18" fill="#c0c0c0"/>
<rect x="1079" y="591" width="1" height="21" fill="#c0c0c0"/>
<rect x="1083" y="591" width="1" height="21" fill="#c0c0c0"/>
<rect x="1087" y="592" width="1" height="20" fill="#c0c0c0"/>
<rect x="1091" y="593" width="1" height="19" fill="#c0c0c0"/>
<rect x="1095" y="593" width="1" height="19" fill="#c0c0c0"/>
<rect x="1099" y="592" width="1" height="20" fill="#c0c0c0"/>
<rect x="1103" y="590" width="1" height="22" fill="#c0c0c0"/>
<rect x="1107" y="590" width="1" height="22" fill="#c0c0c0"/>
<rect x="1111" y="591" width="1" height="21" fill="#c0c0c0"/>
<rect x="1115" y="593" width="1" height="19" fill="#c0c0c0"/>
<rect x="1119" y="596" width="1" height="16" fill="#c0c0c0"/>
<rect x="1123" y="600" width="1" height="12" fill="#c0c0c0"/>
<rect x="1127" y="603" width="1" height="9" fill="#c0c0c0"/>
</g>
<g class="crisp">
<path d="M3 574h3v1h-3zM9 575h3v1h-3zM15 575h3v1h-3zM21 575h3v1h-3zM27 575h3v1h-3zM33 575h3v1h-3zM39 576h3v1h-3zM45 577h3v1h-3zM51 578h1v1h-1zM52 579h2v1h-2zM57 580h3v1h-3zM63 581h1v1h-1zM64 582h2v1h-2zM69 585h1v1h-1zM70 586h1v1h-1zM71 587h1v1h-1zM75 590h1v1h-1zM76 591h1v1h-1zM77 592h1v1h-1zM81 595h1v1h-1zM82 596h1v1h-1zM83 597h1v1h-1zM87 601h1v1h-1zM88 602h1v1h-1zM89 603h1v1h-1zM93 606h1v1h-1zM94 607h1v1h-1zM95 608h1v1h-1zM99 610h1v1h-1zM100 611h2v1h-2zM105 612h1v1h-1zM106 613h2v1h-2zM111 614h3v1h-3zM117 614h3v1h-3zM123 615h3v1h-3zM129 616h3v1h-3zM135 617h3v1h-3zM141 618h1v1h-1zM142 619h2v1h-2zM147 620h3v1h-3zM153 621h3v1h-3zM159 622h3v1h-3zM165 622h3v1h-3zM171 622h3v1h-3zM177 621h3v1h-3zM183 621h3v1h-3zM189 621h3v1h-3zM195 622h3v1h-3zM201 623h2v1h-2zM203 624h1v1h-1zM207 625h2v1h-2zM209 626h1v1h-1zM213 627h3v1h-3zM219 628h1v1h-1zM220 629h2v1h-2zM225 629h1v1h-1zM226 630h2v1h-2zM231 630h1v1h-1zM232 631h2v1h-2zM237 632h3v1h-3zM243 633h1v1h-1zM244 634h2v1h-2zM249 634h2v1h-2zM251 633h1v1h-1zM255 633h3v1h-3zM261 633h3v1h-3zM267 632h3v1h-3zM273 630h1v1h-1zM274 629h2v1h-2zM279 626h1v1h-1zM280 624h1v2h-1zM284 620h1v1h-1zM285 619h1v1h-1zM286 618h1v1h-1zM290 614h1v1h-1zM291 613h2v1h-2zM296 609h1v1h-1zM297 608h1v1h-1zM298 607h1v1h-1zM302 604h2v1h-2zM304 603h1v1h-1zM308 602h1v1h-1zM309 601h2v1h-2zM314 600h1v1h-1zM315 599h2v1h-2zM320 598h3v1h-3zM326 598h3v1h-3zM332 598h3v1h-3zM338 598h1v1h-1zM339 597h2v1h-2zM344 596h3v1h-3zM350 595h2v1h-2zM352 594h1v1h-1zM356 593h3v1h-3zM362 591h1v1h-1zM363 590h2v1h-2zM368 588h1v1h-1zM369 587h2v1h-2zM374 586h3v1h-3zM380 586h3v1h-3zM386 586h3v1h-3zM392 586h1v1h-1zM393 587h2v1h-2zM398 589h2v1h-2zM400 590h1v1h-1zM404 592h2v1h-2zM406 593h1v1h-1zM410 595h2v1h-2zM412 596h1v1h-1zM416 597h1v1h-1zM417 598h2v1h-2zM422 600h1v1h-1zM423 601h2v1h-2zM428 603h1v1h-1zM429 604h2v1h-2zM434 605h3v1h-3zM440 604h3v1h-3zM446 604h1v1h-1zM447 603h2v1h-2zM452 602h1v1h-1zM453 601h2v1h-2zM458 599h3v1h-3zM464 598h3v1h-3zM470 597h3v1h-3zM476 598h2v1h-2zM478 599h1v1h-1zM482 601h2v1h-2zM484 602h1v1h-1zM488 604h1v1h-1zM489 605h2v1h-2zM494 609h1v1h-1zM495 610h1v1h-1zM496 611h1v1h-1zM500 614h1v1h-1zM501 615h1v1h-1zM502 616h1v1h-1zM506 618h1v1h-1zM507 619h1v1h-1zM508 620h1v1h-1zM512 622h1v1h-1zM513 623h2v1h-2zM518 624h1v1h-1zM519 625h2v1h-2zM524 625h3v1h-3zM530 625h3v1h-3zM536 623h1v1h-1zM537 622h2v1h-2zM542 620h3v1h-3zM548 619h1v1h-1zM549 618h2v1h-2zM554 617h2v1h-2zM556 616h1v1h-1zM560 614h2v1h-2zM562 613h1v1h-1zM566 612h3v1h-3zM572 610h1v1h-1zM573 609h2v1h-2zM578 607h1v1h-1zM579 606h2v1h-2zM584 604h1v1h-1zM585 603h2v1h-2zM590 599h2v1h-2zM592 598h1v1h-1zM596 594h2v1h-2zM598 593h1v1h-1zM602 589h2v1h-2zM604 588h1v1h-1zM608 584h1v1h-1zM609 583h1v1h-1zM610 582h1v1h-1zM614 579h1v1h-1zM615 578h2v1h-2zM620 576h1v1h-1zM621 575h2v1h-2zM626 574h1v1h-1zM627 573h2v1h-2zM632 573h1v1h-1zM633 574h2v1h-2zM638 575h3v1h-3zM644 576h1v1h-1zM645 577h2v1h-2zM650 578h1v1h-1zM651 579h2v1h-2zM656 581h1v1h-1zM657 582h1v1h-1zM658 583h1v1h-1zM662 585h1v1h-1zM663 586h1v1h-1zM664 587h1v1h-1zM668 590h1v1h-1zM669 591h1v1h-1zM670 592h1v1h-1zM674 595h1v1h-1zM675 596h1v1h-1zM676 597h1v1h-1zM680 601h2v1h-2zM682 602h1v1h-1zM686 605h1v1h-1zM687 606h1v1h-1zM688 607h1v1h-1zM692 610h2v1h-2zM694 611h1v1h-1zM698 612h1v1h-1zM699 613h2v1h-2zM704 615h1v1h-1zM705 616h2v1h-2zM710 618h1v1h-1zM711 619h2v1h-2zM716 620h2v1h-2zM718 621h1v1h-1zM722 622h2v1h-2zM724 623h1v1h-1zM728 624h1v1h-1zM729 625h2v1h-2zM734 627h1v1h-1zM735 628h2v1h-2zM740 630h1v1h-1zM741 631h2v1h-2zM746 633h2v1h-2zM748 634h1v1h-1zM752 636h2v1h-2zM754 637h1v1h-1zM758 640h1v1h-1zM759 641h1v1h-1zM760 642h1v1h-1zM764 644h1v1h-1zM765 645h2v1h-2zM770 647h3v1h-3zM776 646h3v1h-3zM782 645h1v1h-1zM783 644h2v1h-2zM788 642h1v1h-1zM789 641h2v1h-2zM794 639h3v1h-3zM800 637h3v1h-3zM806 639h1v1h-1zM807 640h2v1h-2zM812 643h2v1h-2zM814 644h1v1h-1zM818 647h1v1h-1zM819 648h1v1h-1zM820 649h1v1h-1zM824 652h1v1h-1zM825 653h2v1h-2zM830 656h1v1h-1zM831 657h2v1h-2zM836 657h3v1h-3zM842 655h1v1h-1zM843 654h2v1h-2zM848 650h2v1h-2zM850 649h1v1h-1zM853 645h1v1h-1zM854 643h1v2h-1zM858 638h1v2h-1zM859 637h1v1h-1zM863 633h2v1h-2zM865 632h1v1h-1zM869 628h1v1h-1zM870 627h1v1h-1zM871 626h1v1h-1zM875 622h2v1h-2zM877 621h1v1h-1zM881 619h1v1h-1zM882 618h2v1h-2zM887 617h3v1h-3zM893 617h3v1h-3zM899 618h2v1h-2zM901 619h1v1h-1zM905 620h3v1h-3zM911 620h3v1h-3zM917 619h3v1h-3zM923 618h2v1h-2zM925 617h1v1h-1zM929 615h2v1h-2zM931 614h1v1h-1zM935 612h2v1h-2zM937 611h1v1h-1zM941 611h1v1h-1zM942 610h2v1h-2zM947 609h1v1h-1zM948 608h2v1h-2zM953 610h1v1h-1zM954 611h2v1h-2zM959 613h1v1h-1zM960 614h2v1h-2zM965 617h1v1h-1zM966 618h1v1h-1zM967 619h1v1h-1zM970 623h1v1h-1zM971 624h1v1h-1zM972 625h1v1h-1zM976 629h1v1h-1zM977 630h1v1h-1zM978 631h1v1h-1zM982 634h2v1h-2zM984 635h1v1h-1zM988 637h3v1h-3zM994 638h3v1h-3zM1000 637h3v1h-3zM1006 635h1v1h-1zM1007 634h2v1h-2zM1012 632h1v1h-1zM1013 631h2v1h-2zM1018 629h1v1h-1zM1019 628h2v1h-2zM1024 626h2v1h-2zM1026 625h1v1h-1zM1030 623h2v1h-2zM1032 622h1v1h-1zM1036 620h2v1h-2zM1038 619h1v1h-1zM1042 617h2v1h-2zM1044 616h1v1h-1zM1048 613h2v1h-2zM1050 612h1v1h-1zM1054 610h1v1h-1zM1055 609h1v1h-1zM1056 608h1v1h-1zM1060 606h1v1h-1zM1061 605h2v1h-2zM1066 603h1v1h-1zM1067 602h2v1h-2zM1072 600h2v1h-2zM1074 599h1v1h-1zM1078 598h2v1h-2zM1080 597h1v1h-1zM1084 596h3v1h-3zM1090 595h2v1h-2zM1092 594h1v1h-1zM1096 593h3v1h-3zM1102 592h3v1h-3zM1108 591h3v1h-3zM1114 591h3v1h-3zM1120 592h3v1h-3z" fill="#ff0000"/>
</g>
<g class="crisp">
<line x1="3" y1="709.5" x2="1418" y2="709.5" stroke="#c0c0c0" stroke-width="1" stroke-dasharray="3 3"/>
<line x1="3" y1="760.5" x2="1418" y2="760.5" stroke="#c0c0c0" stroke-width="1" stroke-dasharray="3 3"/>
<path d="M3 702h1v3h-1zM4 705h1v4h-1zM5 709h1v4h-1zM6 713h1v4h-1zM7 717h1v3h-1zM8 718h1v1h-1zM9 717h2v1h-2zM11 716h1v1h-1zM12 717h1v1h-1zM13 718h1v2h-1zM14 720h1v1h-1zM15 721h1v1h-1zM16 720h1v1h-1zM17 719h2v1h-2zM19 718h1v1h-1zM20 719h1v2h-1zM21 721h1v2h-1zM22 723h1v2h-1zM23 725h2v1h-2zM25 724h3v1h-3zM28 722h1v2h-1zM29 721h1v1h-1zM30 719h1v2h-1zM31 718h9v1h-9zM40 716h1v2h-1zM41 715h1v1h-1zM42 713h1v2h-1zM43 712h1v2h-1zM44 714h1v2h-1zM45 716h1v3h-1zM46 719h1v2h-1zM47 721h1v2h-1zM48 722h5v1h-5zM53 721h3v1h-3zM55 722h1v1h-1zM56 723h1v4h-1zM57 727h1v4h-1zM58 731h1v4h-1zM59 735h1v2h-1zM60 737h2v1h-2zM62 738h2v1h-2zM63 739h1v1h-1zM64 740h1v2h-1zM65 742h1v2h-1zM66 744h1v2h-1zM67 746h1v2h-1zM68 746h1v1h-1zM69 745h2v1h-2zM71 744h9v1h-9zM80 742h1v2h-1zM81 741h1v1h-1zM82 739h1v2h-1zM83 738h5v1h-5zM88 737h2v1h-2zM90 736h3v1h-3zM93 735h3v1h-3zM95 736h1v1h-1zM96 737h1v3h-1zM97 740h1v2h-1zM98 742h1v3h-1zM99 745h1v2h-1zM100 744h1v2h-1zM101 742h1v2h-1zM102 740h1v2h-1zM103 739h1v1h-1zM104 737h1v2h-1zM105 735h1v2h-1zM106 733h1v2h-1zM107 732h1v1h-1zM108 733h2v1h-2zM110 734h3v1h-3zM113 735h4v1h-4zM117 736h3v1h-3zM120 737h2v1h-2zM122 738h2v1h-2zM124 739h1v2h-1zM125 741h1v2h-1zM126 743h1v2h-1zM127 745h1v2h-1zM128 747h1v2h-1zM129 749h1v1h-1zM130 750h1v2h-1zM131 752h2v1h-2zM133 751h7v1h-7zM139 750h1v1h-1zM140 748h1v2h-1zM141 745h1v3h-1zM142 743h1v2h-1zM143 741h1v2h-1zM144 741h1v1h-1zM145 742h3v1h-3zM148 741h1v1h-1zM149 740h2v1h-2zM151 738h1v2h-1zM152 736h1v2h-1zM153 734h1v2h-1zM154 732h1v2h-1zM155 730h5v1h-5zM155 731h1v1h-1zM159 731h1v1h-1zM160 732h1v3h-1zM161 735h1v2h-1zM162 737h1v3h-1zM163 740h1v2h-1zM164 741h1v1h-1zM165 742h3v1h-3zM168 741h1v1h-1zM169 740h3v1h-3zM171 739h1v1h-1zM172 741h1v3h-1zM173 744h1v4h-1zM174 748h1v3h-1zM175 750h1v3h-1zM176 746h1v4h-1zM177 741h1v5h-1zM178 737h1v4h-1zM179 734h1v3h-1zM180 735h2v1h-2zM182 736h2v1h-2zM183 737h1v1h-1zM184 738h1v3h-1zM185 741h1v3h-1zM186 744h1v3h-1zM187 747h1v2h-1zM188 748h1v1h-1zM189 747h3v1h-3zM191 746h1v1h-1zM192 743h1v3h-1zM193 739h1v4h-1zM194 736h1v3h-1zM195 734h1v2h-1zM196 736h1v2h-1zM197 738h1v2h-1zM198 740h1v2h-1zM199 742h1v2h-1zM200 744h2v1h-2zM202 745h2v1h-2zM204 746h2v1h-2zM206 747h2v1h-2zM208 748h1v1h-1zM209 749h2v1h-2zM211 750h1v1h-1zM212 749h2v1h-2zM214 748h2v1h-2zM215 747h1v1h-1zM216 744h1v3h-1zM217 742h1v2h-1zM218 739h1v3h-1zM219 737h1v2h-1zM220 738h2v1h-2zM222 739h3v1h-3zM225 740h4v1h-4zM229 741h3v1h-3zM231 742h1v1h-1zM232 743h1v2h-1zM233 745h1v2h-1zM234 747h1v2h-1zM235 749h3v1h-3zM235 750h1v1h-1zM238 748h2v1h-2zM240 749h1v2h-1zM241 751h1v2h-1zM242 753h1v2h-1zM243 753h1v3h-1zM244 749h1v4h-1zM245 745h1v4h-1zM246 741h1v4h-1zM247 738h9v1h-9zM247 739h1v2h-1zM256 739h1v1h-1zM257 740h1v1h-1zM258 741h2v1h-2zM259 742h1v1h-1zM260 739h1v2h-1zM261 737h1v2h-1zM262 735h1v2h-1zM263 733h1v2h-1zM264 732h1v1h-1zM265 730h1v2h-1zM266 729h1v1h-1zM267 728h1v1h-1zM268 727h1v1h-1zM269 726h1v1h-1zM270 725h1v1h-1zM271 724h2v1h-2zM273 723h7v1h-7zM280 722h2v1h-2zM282 721h6v1h-6zM288 722h1v1h-1zM289 723h1v2h-1zM290 725h1v1h-1zM291 726h2v1h-2zM293 725h3v1h-3zM296 726h1v1h-1zM297 727h1v2h-1zM298 729h1v1h-1zM299 730h1v1h-1zM300 731h2v1h-2zM302 732h3v1h-3zM305 733h3v1h-3zM308 731h1v2h-1zM309 730h1v1h-1zM310 728h1v2h-1zM311 727h1v1h-1zM312 728h2v1h-2zM314 729h6v1h-6zM320 728h1v1h-1zM321 727h2v1h-2zM323 726h5v1h-5zM328 725h1v1h-1zM329 723h1v2h-1zM330 722h1v1h-1zM331 721h1v1h-1zM332 720h1v1h-1zM333 719h2v1h-2zM335 718h1v1h-1zM336 717h1v1h-1zM337 715h1v2h-1zM338 714h1v1h-1zM339 713h5v1h-5zM344 714h1v2h-1zM345 716h1v2h-1zM346 718h1v2h-1zM347 720h1v2h-1zM348 722h2v1h-2zM350 723h2v1h-2zM351 722h1v1h-1zM352 720h1v2h-1zM353 718h1v2h-1zM354 716h1v2h-1zM355 714h1v2h-1zM356 713h1v1h-1zM357 712h2v1h-2zM359 711h1v1h-1zM360 710h1v1h-1zM361 709h1v1h-1zM362 708h2v1h-2zM363 707h1v1h-1zM364 709h1v3h-1zM365 712h1v3h-1zM366 715h1v3h-1zM367 718h1v2h-1zM368 719h5v1h-5zM373 720h7v1h-7zM379 721h1v1h-1zM380 722h1v2h-1zM381 724h1v2h-1zM382 726h1v2h-1zM383 728h1v2h-1zM384 730h1v1h-1zM385 731h2v1h-2zM387 732h2v1h-2zM389 731h3v1h-3zM392 732h2v1h-2zM394 733h11v1h-11zM405 734h3v1h-3zM408 733h2v1h-2zM410 732h2v1h-2zM411 733h1v1h-1zM412 734h1v2h-1zM413 736h1v3h-1zM414 739h1v2h-1zM415 741h1v2h-1zM416 740h1v2h-1zM417 738h1v2h-1zM418 736h1v2h-1zM419 735h1v1h-1zM420 736h2v1h-2zM422 737h2v1h-2zM424 736h2v1h-2zM426 735h2v1h-2zM427 734h1v1h-1zM428 730h1v4h-1zM429 727h1v3h-1zM430 723h1v4h-1zM431 721h1v2h-1zM432 721h1v1h-1zM433 722h3v1h-3zM435 721h1v1h-1zM436 718h1v3h-1zM437 714h1v4h-1zM438 711h1v3h-1zM439 709h1v2h-1zM440 711h1v3h-1zM441 714h1v2h-1zM442 716h1v3h-1zM443 719h1v2h-1zM444 720h1v1h-1zM445 719h3v1h-3zM448 718h1v1h-1zM449 717h2v1h-2zM451 716h1v1h-1zM452 717h1v2h-1zM453 719h1v2h-1zM454 721h1v2h-1zM455 723h1v2h-1zM456 725h1v2h-1zM457 727h1v3h-1zM458 730h1v2h-1zM459 732h1v2h-1zM460 733h1v1h-1zM461 734h3v1h-3zM464 735h2v1h-2zM466 736h3v1h-3zM469 737h3v1h-3zM472 738h1v1h-1zM473 739h2v1h-2zM475 740h1v1h-1zM476 741h1v2h-1zM477 743h1v1h-1zM478 744h1v2h-1zM479 746h1v2h-1zM480 748h1v3h-1zM481 751h1v2h-1zM482 753h1v3h-1zM483 756h3v1h-3zM483 757h1v1h-1zM486 755h2v1h-2zM488 753h1v2h-1zM489 751h1v2h-1zM490 749h1v2h-1zM491 748h1v1h-1zM492 749h2v1h-2zM494 750h2v1h-2zM496 751h2v1h-2zM498 752h2v1h-2zM500 751h1v1h-1zM501 749h1v2h-1zM502 748h1v1h-1zM503 747h1v1h-1zM504 746h2v1h-2zM506 745h3v1h-3zM509 744h3v1h-3zM512 743h1v1h-1zM513 742h2v1h-2zM515 741h1v1h-1zM516 742h2v1h-2zM518 743h2v1h-2zM519 742h1v1h-1zM520 739h1v3h-1zM521 737h1v2h-1zM522 734h1v3h-1zM523 732h1v2h-1zM524 733h1v1h-1zM525 734h2v1h-2zM527 735h1v1h-1zM528 736h2v1h-2zM530 737h2v1h-2zM532 735h1v2h-1zM533 733h1v2h-1zM534 731h1v2h-1zM535 730h6v1h-6zM541 729h3v1h-3zM544 730h1v1h-1zM545 731h2v1h-2zM547 732h2v1h-2zM549 731h3v1h-3zM552 729h1v2h-1zM553 727h1v2h-1zM554 725h1v2h-1zM555 724h1v1h-1zM556 723h2v1h-2zM558 722h6v1h-6zM564 723h2v1h-2zM566 724h2v1h-2zM568 723h1v1h-1zM569 722h1v1h-1zM570 721h1v1h-1zM571 720h1v1h-1zM572 718h1v2h-1zM573 716h1v2h-1zM574 714h1v2h-1zM575 712h1v2h-1zM576 710h1v2h-1zM577 708h1v2h-1zM578 706h1v2h-1zM579 705h1v1h-1zM580 703h1v2h-1zM581 702h1v1h-1zM582 700h1v2h-1zM583 699h1v1h-1zM584 700h1v1h-1zM585 701h2v1h-2zM587 702h2v1h-2zM589 701h3v1h-3zM592 699h1v2h-1zM593 698h1v1h-1zM594 696h1v2h-1zM595 695h5v1h-5zM600 696h2v1h-2zM602 697h2v1h-2zM604 698h1v1h-1zM605 699h1v1h-1zM606 700h1v1h-1zM607 701h6v1h-6zM613 700h3v1h-3zM616 701h2v1h-2zM618 702h2v1h-2zM619 703h1v1h-1zM620 704h1v2h-1zM621 706h1v3h-1zM622 709h1v2h-1zM623 711h1v2h-1zM624 711h1v1h-1zM625 709h1v2h-1zM626 708h1v1h-1zM627 707h1v1h-1zM628 708h1v2h-1zM629 710h1v2h-1zM630 712h1v2h-1zM631 714h1v2h-1zM632 716h1v1h-1zM633 717h1v2h-1zM634 719h1v1h-1zM635 720h1v1h-1zM636 719h1v1h-1zM637 718h2v1h-2zM639 717h1v1h-1zM640 716h1v1h-1zM641 714h1v2h-1zM642 713h1v1h-1zM643 712h2v1h-2zM645 711h3v1h-3zM647 712h1v2h-1zM648 714h1v5h-1zM649 719h1v4h-1zM650 723h1v5h-1zM651 728h1v3h-1zM652 731h1v2h-1zM653 733h1v2h-1zM654 735h1v2h-1zM655 737h1v2h-1zM656 739h1v2h-1zM657 741h1v1h-1zM658 742h1v2h-1zM659 744h1v2h-1zM660 746h1v2h-1zM661 748h1v2h-1zM662 750h1v2h-1zM663 752h1v2h-1zM664 750h1v2h-1zM665 748h1v2h-1zM666 746h1v2h-1zM667 744h1v2h-1zM668 744h1v1h-1zM669 745h3v1h-3zM672 744h1v1h-1zM673 742h1v2h-1zM674 741h1v1h-1zM675 740h1v1h-1zM676 739h1v1h-1zM677 738h2v1h-2zM679 737h1v1h-1zM680 738h2v1h-2zM682 739h2v1h-2zM684 740h1v1h-1zM685 741h1v2h-1zM686 743h1v1h-1zM687 744h1v1h-1zM688 742h1v2h-1zM689 740h1v2h-1zM690 738h1v2h-1zM691 736h1v2h-1zM692 737h1v2h-1zM693 739h1v1h-1zM694 740h1v2h-1zM695 742h1v2h-1zM696 744h1v2h-1zM697 746h1v3h-1zM698 749h1v2h-1zM699 751h1v2h-1zM700 753h1v1h-1zM701 754h2v1h-2zM703 755h1v1h-1zM704 754h2v1h-2zM706 753h2v1h-2zM708 751h1v2h-1zM709 750h1v1h-1zM710 748h1v2h-1zM711 747h1v1h-1zM712 745h1v2h-1zM713 743h1v2h-1zM714 741h1v2h-1zM715 739h1v2h-1zM716 738h1v1h-1zM717 737h2v1h-2zM719 736h1v1h-1zM720 737h1v1h-1zM721 738h2v1h-2zM723 739h1v2h-1zM724 741h1v3h-1zM725 744h1v3h-1zM726 747h1v3h-1zM727 750h1v2h-1zM728 751h1v1h-1zM729 752h3v1h-3zM731 753h1v1h-1zM732 754h1v2h-1zM733 756h1v2h-1zM734 758h1v2h-1zM735 760h1v2h-1zM736 762h2v1h-2zM738 763h2v1h-2zM740 761h1v2h-1zM741 760h1v1h-1zM742 758h1v2h-1zM743 757h1v1h-1zM744 758h1v1h-1zM745 759h1v1h-1zM746 760h1v1h-1zM747 761h1v1h-1zM748 762h1v1h-1zM749 763h1v2h-1zM750 765h2v1h-2zM751 766h1v1h-1zM752 763h1v2h-1zM753 761h1v2h-1zM754 759h1v2h-1zM755 757h1v2h-1zM756 757h1v1h-1zM757 758h3v1h-3zM760 756h1v2h-1zM761 754h1v2h-1zM762 752h1v2h-1zM763 751h1v1h-1zM764 749h1v2h-1zM765 747h1v2h-1zM766 745h1v2h-1zM767 744h1v1h-1zM768 745h2v1h-2zM770 746h2v1h-2zM771 745h1v1h-1zM772 742h1v3h-1zM773 740h1v2h-1zM774 737h1v3h-1zM775 735h6v1h-6zM775 736h1v1h-1zM781 736h3v1h-3zM784 735h1v1h-1zM785 734h3v1h-3zM787 733h1v1h-1zM788 735h1v4h-1zM789 739h1v3h-1zM790 742h1v4h-1zM791 746h1v3h-1zM792 749h1v3h-1zM793 752h1v3h-1zM794 755h1v3h-1zM795 758h1v2h-1zM796 760h1v1h-1zM797 761h2v1h-2zM799 762h1v1h-1zM800 763h2v1h-2zM802 764h2v1h-2zM804 765h2v1h-2zM806 766h2v1h-2zM808 765h1v1h-1zM809 763h1v2h-1zM810 762h1v1h-1zM811 761h1v1h-1zM812 759h1v2h-1zM813 758h1v1h-1zM814 756h1v2h-1zM815 755h2v1h-2zM817 756h4v1h-4zM821 757h3v1h-3zM824 755h1v2h-1zM825 753h1v2h-1zM826 751h1v2h-1zM827 748h1v3h-1zM828 745h1v3h-1zM829 741h1v4h-1zM830 738h1v3h-1zM831 736h1v2h-1zM832 737h2v1h-2zM834 738h7v1h-7zM841 739h3v1h-3zM843 738h1v1h-1zM844 735h1v3h-1zM845 733h1v2h-1zM846 730h1v3h-1zM847 728h1v2h-1zM848 729h2v1h-2zM850 730h2v1h-2zM852 729h1v1h-1zM853 727h1v2h-1zM854 726h1v1h-1zM855 725h1v1h-1zM856 726h2v1h-2zM858 727h2v1h-2zM859 728h1v1h-1zM860 729h1v2h-1zM861 731h1v2h-1zM862 733h1v2h-1zM863 735h1v2h-1zM864 735h1v1h-1zM865 734h2v1h-2zM867 733h1v1h-1zM868 734h1v2h-1zM869 736h1v2h-1zM870 738h1v2h-1zM871 740h1v2h-1zM872 741h8v1h-8zM880 739h1v2h-1zM881 737h1v2h-1zM882 735h1v2h-1zM883 734h1v1h-1zM884 735h2v1h-2zM886 736h2v1h-2zM888 737h1v2h-1zM889 739h1v2h-1zM890 741h1v2h-1zM891 743h6v1h-6zM897 742h3v1h-3zM900 743h2v1h-2zM902 744h2v1h-2zM904 742h1v2h-1zM905 740h1v2h-1zM906 738h1v2h-1zM907 737h2v1h-2zM909 738h3v1h-3zM911 737h1v1h-1zM912 734h1v3h-1zM913 731h1v3h-1zM914 728h1v3h-1zM915 726h1v2h-1zM916 725h1v1h-1zM917 723h1v2h-1zM918 722h1v1h-1zM919 721h1v1h-1zM920 722h2v1h-2zM922 723h2v1h-2zM924 724h1v1h-1zM925 725h1v2h-1zM926 727h1v1h-1zM927 728h1v1h-1zM928 729h1v1h-1zM929 730h2v1h-2zM931 731h1v1h-1zM932 729h1v2h-1zM933 727h1v2h-1zM934 725h1v2h-1zM935 723h1v2h-1zM936 724h1v2h-1zM937 726h1v2h-1zM938 728h1v2h-1zM939 730h1v2h-1zM940 732h1v4h-1zM941 736h1v3h-1zM942 739h1v4h-1zM943 743h1v2h-1zM944 744h4v1h-4zM947 745h1v1h-1zM948 746h1v4h-1zM949 750h1v3h-1zM950 753h1v4h-1zM951 757h1v2h-1zM952 755h1v2h-1zM953 752h1v3h-1zM954 750h1v2h-1zM955 748h1v2h-1zM956 748h1v1h-1zM957 749h4v1h-4zM961 750h3v1h-3zM964 751h2v1h-2zM966 752h2v1h-2zM968 753h2v1h-2zM970 754h2v1h-2zM972 755h2v1h-2zM974 756h2v1h-2zM975 755h1v1h-1zM976 752h1v3h-1zM977 748h1v4h-1zM978 745h1v3h-1zM979 743h1v2h-1zM980 744h1v1h-1zM981 745h2v1h-2zM983 746h1v1h-1zM984 745h1v1h-1zM985 744h1v1h-1zM986 743h1v1h-1zM987 742h1v1h-1zM988 741h1v1h-1zM989 740h1v1h-1zM990 739h1v1h-1zM991 738h1v1h-1zM992 737h2v1h-2zM994 736h2v1h-2zM996 735h2v1h-2zM998 734h2v1h-2zM1000 735h1v1h-1zM1001 736h1v1h-1zM1002 737h1v1h-1zM1003 738h1v1h-1zM1004 736h1v2h-1zM1005 734h1v2h-1zM1006 732h1v2h-1zM1007 731h1v1h-1zM1008 730h2v1h-2zM1010 729h2v1h-2zM1011 730h1v1h-1zM1012 731h1v4h-1zM1013 735h1v3h-1zM1014 738h1v4h-1zM1015 742h1v2h-1zM1016 744h2v1h-2zM1018 745h2v1h-2zM1019 744h1v1h-1zM1020 742h1v2h-1zM1021 740h1v2h-1zM1022 738h1v2h-1zM1023 736h1v2h-1zM1024 735h1v1h-1zM1025 734h2v1h-2zM1027 733h2v1h-2zM1029 732h3v1h-3zM1032 730h1v2h-1zM1033 728h1v2h-1zM1034 726h1v2h-1zM1035 725h1v1h-1zM1036 724h1v1h-1zM1037 722h1v2h-1zM1038 721h1v1h-1zM1039 720h1v1h-1zM1040 721h2v1h-2zM1042 722h3v1h-3zM1045 721h3v1h-3zM1048 722h1v2h-1zM1049 724h1v2h-1zM1050 726h1v2h-1zM1051 728h1v2h-1zM1052 730h1v2h-1zM1053 732h1v2h-1zM1054 734h1v2h-1zM1055 736h1v2h-1zM1056 735h1v2h-1zM1057 733h1v2h-1zM1058 731h1v2h-1zM1059 730h1v1h-1zM1060 729h2v1h-2zM1062 728h6v1h-6zM1068 726h1v2h-1zM1069 724h1v2h-1zM1070 722h1v2h-1zM1071 721h1v1h-1zM1072 722h2v1h-2zM1074 723h2v1h-2zM1076 722h2v1h-2zM1078 721h2v1h-2zM1080 722h1v1h-1zM1081 723h1v2h-1zM1082 725h1v1h-1zM1083 726h5v1h-5zM1088 727h1v2h-1zM1089 729h1v2h-1zM1090 731h1v2h-1zM1091 732h1v2h-1zM1092 730h1v2h-1zM1093 728h1v2h-1zM1094 726h1v2h-1zM1095 724h1v2h-1zM1096 724h1v1h-1zM1097 725h3v1h-3zM1100 723h1v2h-1zM1101 722h1v1h-1zM1102 720h1v2h-1zM1103 719h1v1h-1zM1104 720h1v2h-1zM1105 722h1v2h-1zM1106 724h1v2h-1zM1107 726h1v2h-1zM1108 728h2v1h-2zM1110 729h3v1h-3zM1113 730h3v1h-3zM1116 731h1v1h-1zM1117 732h1v1h-1zM1118 733h1v1h-1zM1119 734h1v1h-1zM1120 735h1v1h-1zM1121 736h1v2h-1zM1122 738h1v1h-1zM1123 739h2v1h-2zM1125 738h3v1h-3z" fill="#1e90ff"/>
<rect x="3" y="800" width="1" height="3" fill="#000"/>
<rect x="67" y="800" width="1" height="3" fill="#000"/>
<rect x="131" y="800" width="1" height="3" fill="#000"/>
<rect x="195" y="800" width="1" height="3" fill="#000"/>
<rect x="259" y="800" width="1" height="3" fill="#000"/>
<rect x="323" y="800" width="1" height="3" fill="#000"/>
<rect x="387" y="800" width="1" height="3" fill="#000"/>
<rect x="451" y="800" width="1" height="3" fill="#000"/>
<rect x="515" y="800" width="1" height="3" fill="#000"/>
<rect x="579" y="800" width="1" height="3" fill="#000"/>
<rect x="643" y="800" width="1" height="3" fill="#000"/>
<rect x="707" y="800" width="1" height="3" fill="#000"/>
<rect x="771" y="800" width="1" height="3" fill="#000"/>
<rect x="835" y="800" width="1" height="3" fill="#000"/>
<rect x="899" y="800" width="1" height="3" fill="#000"/>
<rect x="963" y="800" width="1" height="3" fill="#000"/>
<rect x="1027" y="800" width="1" height="3" fill="#000"/>
<rect x="1091" y="800" width="1" height="3" fill="#000"/>
</g>
<g class="crisp">
<rect x="0" y="820" width="1463" height="1" fill="#e3e3e3"/>
<rect x="0" y="822" width="1463" height="1" fill="#000"/>
<rect x="0" y="823" width="1463" height="1" fill="#ffffff"/>
<rect x="0" y="824" width="1463" height="21" fill="#f0f0f0"/>
<rect x="0" y="841" width="1463" height="1" fill="#f8f8f8"/>
<rect x="0" y="842" width="1463" height="1" fill="#ffffff"/>
<rect x="0" y="845" width="1463" height="1" fill="#dcdcdc"/>
<rect x="0" y="846" width="1463" height="1" fill="#a0a0a0"/>
<rect x="221" y="822" width="106" height="18" fill="#ffffff"/>
<rect x="220" y="822" width="1" height="19" fill="#000"/>
<rect x="327" y="822" width="1" height="19" fill="#000"/>
<rect x="220" y="840" width="108" height="1" fill="#000"/>
<rect x="112" y="826" width="1" height="13" fill="#808080"/>
<rect x="437" y="826" width="1" height="13" fill="#808080"/>
<rect x="548" y="826" width="1" height="13" fill="#808080"/>
<rect x="668" y="826" width="1" height="13" fill="#808080"/>
<rect x="776" y="826" width="1" height="13" fill="#808080"/>
<rect x="872" y="826" width="1" height="13" fill="#808080"/>
<rect x="952" y="826" width="1" height="13" fill="#808080"/>
<rect x="1056" y="826" width="1" height="13" fill="#808080"/>
<rect x="1176" y="826" width="1" height="13" fill="#808080"/>
</g>
<polygon points="1437,828.2 1437,834.8 1433.8,831.5" fill="#909090"/>
<polygon points="1453,828.2 1453,834.8 1456.2,831.5" fill="#909090"/>
<g style="text-rendering:geometricPrecision">
<text x="5" y="11" font-size="10" fill="#484848" textLength="13" lengthAdjust="spacingAndGlyphs">H4</text>
<text x="34.5" y="11" font-size="10" fill="#484848" textLength="11.5" lengthAdjust="spacingAndGlyphs">D1</text>
<text x="62" y="11" font-size="10" fill="#484848" textLength="14" lengthAdjust="spacingAndGlyphs">W1</text>
<text x="88.5" y="11" font-size="10" fill="#484848" textLength="14.5" lengthAdjust="spacingAndGlyphs">MN</text>
<polygon points="6,30 14,30 10,34" fill="#000"/>
<text x="18" y="35" font-size="10" fill="#000" textLength="68" lengthAdjust="spacingAndGlyphs">USDCHF-,Daily</text>
<text x="92" y="35" font-size="10" fill="#000" textLength="141" lengthAdjust="spacingAndGlyphs">0.98613 0.98665 0.98566 0.98653</text>
<text x="7" y="577" font-size="10" fill="#000" textLength="148" lengthAdjust="spacingAndGlyphs">MACD(12,26,9) 0.001306 0.002459</text>
<text x="7" y="682" font-size="10" fill="#000" textLength="68" lengthAdjust="spacingAndGlyphs">RSI(14) 47.4219</text>
<text x="1424" y="35" font-size="10" fill="#000" textLength="32.5" lengthAdjust="spacingAndGlyphs">1.02580</text>
<text x="1424" y="68" font-size="10" fill="#000" textLength="32.5" lengthAdjust="spacingAndGlyphs">1.02200</text>
<text x="1424" y="101" font-size="10" fill="#000" textLength="32.5" lengthAdjust="spacingAndGlyphs">1.01820</text>
<text x="1424" y="134" font-size="10" fill="#000" textLength="32.5" lengthAdjust="spacingAndGlyphs">1.01440</text>
<text x="1424" y="167" font-size="10" fill="#000" textLength="32.5" lengthAdjust="spacingAndGlyphs">1.01050</text>
<text x="1424" y="200" font-size="10" fill="#000" textLength="32.5" lengthAdjust="spacingAndGlyphs">1.00670</text>
<text x="1424" y="233" font-size="10" fill="#000" textLength="32.5" lengthAdjust="spacingAndGlyphs">1.00290</text>
<text x="1424" y="266" font-size="10" fill="#000" textLength="32.5" lengthAdjust="spacingAndGlyphs">0.99910</text>
<text x="1424" y="299" font-size="10" fill="#000" textLength="32.5" lengthAdjust="spacingAndGlyphs">0.99530</text>
<text x="1424" y="332" font-size="10" fill="#000" textLength="32.5" lengthAdjust="spacingAndGlyphs">0.99140</text>
<text x="1424" y="365" font-size="10" fill="#000" textLength="32.5" lengthAdjust="spacingAndGlyphs">0.98760</text>
<text x="1424" y="398" font-size="10" fill="#000" textLength="32.5" lengthAdjust="spacingAndGlyphs">0.98380</text>
<text x="1424" y="464" font-size="10" fill="#000" textLength="32.5" lengthAdjust="spacingAndGlyphs">0.97610</text>
<text x="1424" y="497" font-size="10" fill="#000" textLength="32.5" lengthAdjust="spacingAndGlyphs">0.97230</text>
<text x="1424" y="530" font-size="10" fill="#000" textLength="32.5" lengthAdjust="spacingAndGlyphs">0.96850</text>
<text x="1424" y="563" font-size="10" fill="#000" textLength="32.5" lengthAdjust="spacingAndGlyphs">0.96470</text>
<text x="1424" y="153" font-size="10" fill="#fff" textLength="32.5" lengthAdjust="spacingAndGlyphs">1.01205</text>
<text x="1424" y="248" font-size="10" fill="#fff" textLength="32.5" lengthAdjust="spacingAndGlyphs">1.00106</text>
<text x="1424" y="308" font-size="10" fill="#fff" textLength="32.5" lengthAdjust="spacingAndGlyphs">0.99406</text>
<text x="1424" y="429" font-size="10" fill="#fff" textLength="32.5" lengthAdjust="spacingAndGlyphs">0.98004</text>
<text x="1424" y="516" font-size="10" fill="#fff" textLength="32.5" lengthAdjust="spacingAndGlyphs">0.97001</text>
<text x="1424" y="374" font-size="10" fill="#fff" textLength="32.5" lengthAdjust="spacingAndGlyphs">0.98653</text>
<text x="1422" y="576" font-size="10" fill="#000" textLength="38" lengthAdjust="spacingAndGlyphs">0.006286</text>
<text x="1422" y="616" font-size="10" fill="#000" textLength="17.5" lengthAdjust="spacingAndGlyphs">0.00</text>
<text x="1422" y="665" font-size="10" fill="#000" textLength="36" lengthAdjust="spacingAndGlyphs">-0.00762</text>
<text x="1422" y="680" font-size="10" fill="#000" textLength="15" lengthAdjust="spacingAndGlyphs">100</text>
<text x="1422" y="713" font-size="10" fill="#000" textLength="10" lengthAdjust="spacingAndGlyphs">70</text>
<text x="1422" y="764" font-size="10" fill="#000" textLength="10" lengthAdjust="spacingAndGlyphs">30</text>
<text x="1422" y="796" font-size="10" fill="#000">0</text>
<text x="3" y="812" font-size="10" fill="#000" textLength="50" lengthAdjust="spacingAndGlyphs">31 Oct 2018</text>
<text x="67" y="812" font-size="10" fill="#000" textLength="53" lengthAdjust="spacingAndGlyphs">19 Nov 2018</text>
<text x="131" y="812" font-size="10" fill="#000" textLength="47" lengthAdjust="spacingAndGlyphs">7 Dec 2018</text>
<text x="195" y="812" font-size="10" fill="#000" textLength="51" lengthAdjust="spacingAndGlyphs">26 Dec 2018</text>
<text x="259" y="812" font-size="10" fill="#000" textLength="49" lengthAdjust="spacingAndGlyphs">14 Jan 2019</text>
<text x="323" y="812" font-size="10" fill="#000" textLength="46" lengthAdjust="spacingAndGlyphs">1 Feb 2019</text>
<text x="387" y="812" font-size="10" fill="#000" textLength="51" lengthAdjust="spacingAndGlyphs">20 Feb 2019</text>
<text x="451" y="812" font-size="10" fill="#000" textLength="51" lengthAdjust="spacingAndGlyphs">11 Mar 2019</text>
<text x="515" y="812" font-size="10" fill="#000" textLength="51" lengthAdjust="spacingAndGlyphs">29 Mar 2019</text>
<text x="579" y="812" font-size="10" fill="#000" textLength="50" lengthAdjust="spacingAndGlyphs">17 Apr 2019</text>
<text x="643" y="812" font-size="10" fill="#000" textLength="48" lengthAdjust="spacingAndGlyphs">7 May 2019</text>
<text x="707" y="812" font-size="10" fill="#000" textLength="53.5" lengthAdjust="spacingAndGlyphs">26 May 2019</text>
<text x="771" y="812" font-size="10" fill="#000" textLength="49.5" lengthAdjust="spacingAndGlyphs">13 Jun 2019</text>
<text x="835" y="812" font-size="10" fill="#000" textLength="41" lengthAdjust="spacingAndGlyphs">2 Jul 2019</text>
<text x="899" y="812" font-size="10" fill="#000" textLength="46.5" lengthAdjust="spacingAndGlyphs">21 Jul 2019</text>
<text x="963" y="812" font-size="10" fill="#000" textLength="46.5" lengthAdjust="spacingAndGlyphs">8 Aug 2019</text>
<text x="1027" y="812" font-size="10" fill="#000" textLength="52" lengthAdjust="spacingAndGlyphs">27 Aug 2019</text>
<text x="1091" y="812" font-size="10" fill="#000" textLength="51" lengthAdjust="spacingAndGlyphs">15 Sep 2019</text>
<text x="15" y="837" font-size="12.5" fill="#6a6a6a" textLength="85" lengthAdjust="spacingAndGlyphs">EURUSD-,Daily</text>
<text x="122" y="837" font-size="12.5" fill="#6a6a6a" textLength="87" lengthAdjust="spacingAndGlyphs">AUDUSD-,Daily</text>
<text x="232" y="837" font-size="12.5" fill="#000" textLength="84" lengthAdjust="spacingAndGlyphs">USDCHF-,Daily</text>
<text x="339" y="837" font-size="12.5" fill="#6a6a6a" textLength="86" lengthAdjust="spacingAndGlyphs">USDCAD-,Daily</text>
<text x="448" y="837" font-size="12.5" fill="#6a6a6a" textLength="88" lengthAdjust="spacingAndGlyphs">USDCNH-,Daily</text>
<text x="559" y="837" font-size="12.5" fill="#6a6a6a" textLength="97" lengthAdjust="spacingAndGlyphs">EURCHF-,Weekly</text>
<text x="679" y="837" font-size="12.5" fill="#6a6a6a" textLength="86" lengthAdjust="spacingAndGlyphs">XAUUSD-,Daily</text>
<text x="787" y="837" font-size="12.5" fill="#6a6a6a" textLength="72" lengthAdjust="spacingAndGlyphs">GBPUSD-,H1</text>
<text x="883" y="837" font-size="12.5" fill="#6a6a6a" textLength="56" lengthAdjust="spacingAndGlyphs">UKOil-,H1</text>
<text x="962" y="837" font-size="12.5" fill="#6a6a6a" textLength="82" lengthAdjust="spacingAndGlyphs">USDX-,Weekly</text>
<text x="1067" y="837" font-size="12.5" fill="#6a6a6a" textLength="97" lengthAdjust="spacingAndGlyphs">EURCHF-,Weekly</text>
</g>
</svg>
</body></html>
